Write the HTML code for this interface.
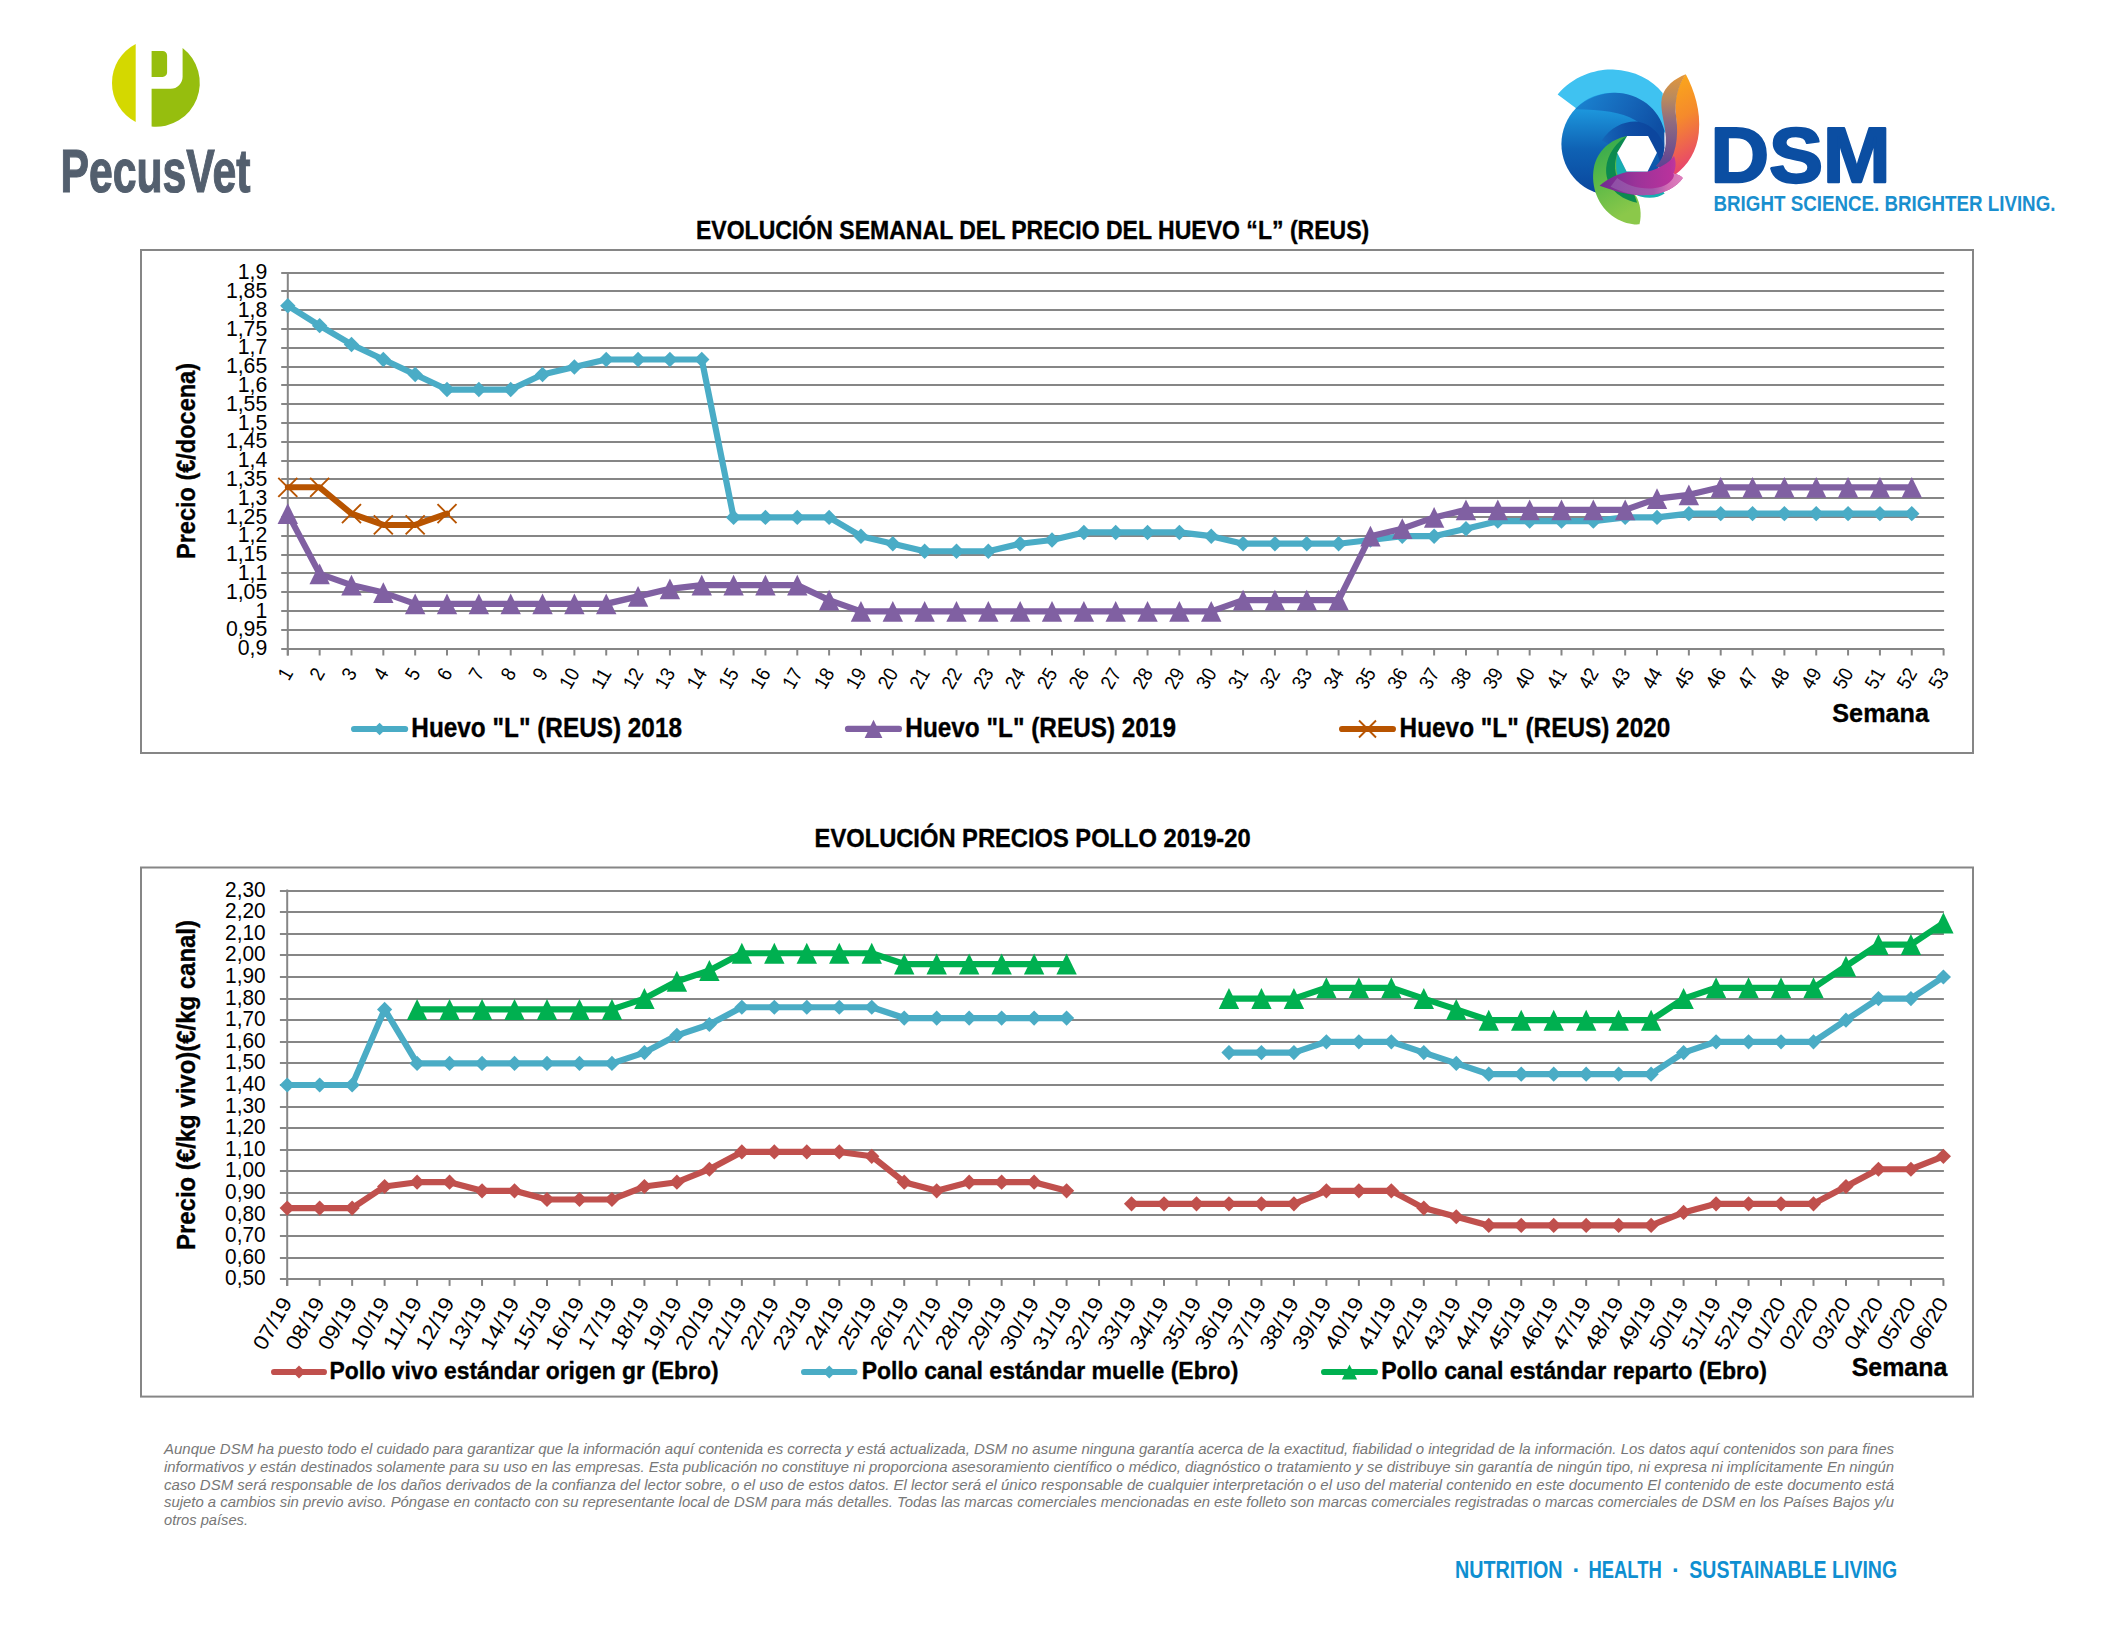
<!DOCTYPE html>
<html lang="es"><head><meta charset="utf-8"><title>Evolución semanal de precios</title>
<style>
html,body{margin:0;padding:0;background:#fff}
body{width:2112px;height:1632px;overflow:hidden;position:relative}
svg{position:absolute;left:0;top:0;display:block}
svg text{font-family:"Liberation Sans",sans-serif}
</style></head><body>
<svg width="2112" height="1632" viewBox="0 0 2112 1632">
<rect width="2112" height="1632" fill="#fff"/>
<g id="pecusvet">
<path d="M135.7 43.92A43.9 43.9 0 0 0 135.7 121.88Z" fill="#d4d800"/>
<path d="M151.6 88.7H170.6A12 12 0 0 0 182.6 76.7V48.05A43.9 43.9 0 0 1 151.6 126.59Z" fill="#96be0e"/>
<path d="M151.6 51H162.6A4.5 4.5 0 0 1 167.1 55.5V72.4A4.5 4.5 0 0 1 162.6 76.9H151.6Z" fill="#96be0e"/>
<text x="60.50" y="191.70" font-size="62" font-weight="bold" fill="#535f6e" textLength="190.00" lengthAdjust="spacingAndGlyphs" stroke="#535f6e" stroke-width="1.2">PecusVet</text>
</g>
<g id="dsm"><defs>
<linearGradient id="gB" x1="0" y1="0" x2="0" y2="1"><stop offset="0.1" stop-color="#1f9fe3"/><stop offset="0.55" stop-color="#0f62b4"/><stop offset="1" stop-color="#0a459c"/></linearGradient>
<linearGradient id="gBand" x1="0" y1="0" x2="1" y2="0.4"><stop offset="0" stop-color="#1a86d3"/><stop offset="0.6" stop-color="#1565b8"/><stop offset="1" stop-color="#0e4fa4"/></linearGradient>
<linearGradient id="gG" x1="0" y1="0" x2="0.3" y2="1"><stop offset="0" stop-color="#2aa651"/><stop offset="0.5" stop-color="#5bb947"/><stop offset="1" stop-color="#8bc84a"/></linearGradient>
<linearGradient id="gO" x1="0.3" y1="0" x2="0.5" y2="1"><stop offset="0" stop-color="#fbaa19"/><stop offset="0.45" stop-color="#f58a2c"/><stop offset="0.8" stop-color="#ec5a58"/><stop offset="1" stop-color="#e63f73"/></linearGradient>
<linearGradient id="gP" x1="0" y1="0" x2="1" y2="0"><stop offset="0" stop-color="#6f2c91"/><stop offset="0.45" stop-color="#9c3399"/><stop offset="0.85" stop-color="#b8329c"/><stop offset="1" stop-color="#c640a0"/></linearGradient>
<linearGradient id="gOd" x1="0" y1="0" x2="0" y2="1"><stop offset="0" stop-color="#e3963a"/><stop offset="0.25" stop-color="#b98a5e"/><stop offset="0.5" stop-color="#8f6b80"/><stop offset="1" stop-color="#5a3f96"/></linearGradient>
<linearGradient id="gDk" gradientUnits="userSpaceOnUse" x1="560" y1="0" x2="1000" y2="0"><stop offset="0" stop-color="#1566b8"/><stop offset="0.5" stop-color="#0f4fa6"/><stop offset="1" stop-color="#0c469e"/></linearGradient>
<linearGradient id="gPk" gradientUnits="userSpaceOnUse" x1="640" y1="0" x2="1295" y2="0"><stop offset="0" stop-color="#8d4fa6"/><stop offset="0.6" stop-color="#a557ab"/><stop offset="0.8" stop-color="#d36fb5"/><stop offset="1" stop-color="#df80be"/></linearGradient>
</defs>
<g transform="translate(1540 60) scale(0.110294)">
<!-- light blue crescent -->
<path d="M160 312C300 140 520 80 660 86C860 94 1020 180 1112 300L1140 660L330 440Z" fill="#3fc2f1"/>
<!-- big blue disc -->
<circle cx="660" cy="762" r="466" fill="url(#gB)"/>
<!-- outer band -->
<path d="M318 446C420 340 560 296 680 296C900 300 1080 440 1128 640L1128 800L1060 840C1040 700 960 600 860 545C740 470 560 450 318 446Z" fill="url(#gBand)"/>
<!-- inner dark sweep -->
<path d="M560 730C640 610 760 555 870 558C1000 570 1110 680 1128 800L1100 960L1060 840L980 690H790L700 800Z" fill="url(#gDk)"/>
<!-- teal -->
<path d="M700 840C640 960 700 1120 820 1200C940 1270 1060 1260 1130 1210L975 1010H785Z" fill="#17adb0"/>
<!-- green leaf -->
<path d="M790 690C640 720 520 820 488 980C460 1140 520 1330 680 1430C760 1480 840 1495 902 1490C925 1400 910 1300 870 1230C760 1180 690 1080 690 960C690 900 700 860 700 840Z" fill="url(#gG)"/>
<path d="M790 690C700 740 610 850 600 980C590 1120 680 1250 880 1295C870 1260 860 1230 850 1215C740 1160 670 1060 680 940C686 890 700 850 700 840Z" fill="#0c8a4f"/>
<!-- orange leaf -->
<path d="M1322 130C1400 280 1460 460 1440 660C1425 820 1340 960 1225 1040C1180 1010 1150 980 1130 950C1230 820 1250 640 1230 480C1215 360 1250 220 1322 130Z" fill="url(#gO)"/>
<path d="M1322 130C1220 170 1130 240 1105 340C1080 460 1150 600 1140 760C1130 860 1090 930 1050 960L1130 1000C1230 880 1260 700 1235 520C1215 380 1250 230 1322 130Z" fill="url(#gOd)"/>
<!-- purple -->
<path d="M540 1140C620 1070 720 1030 790 1015L975 1010C1080 990 1170 930 1215 870C1240 930 1230 990 1210 1030C1250 1040 1280 1050 1295 1070C1240 1150 1130 1215 980 1225C820 1235 680 1190 540 1140Z" fill="url(#gP)"/>
<path d="M700 1070C800 1150 960 1190 1100 1150C1180 1125 1230 1060 1210 1030C1250 1040 1280 1050 1295 1070C1240 1150 1130 1215 980 1225C860 1230 760 1210 640 1150Z" fill="url(#gPk)"/>
<!-- hexagon -->
<path d="M700 840L790 690H980L1060 840L975 1010H785Z" fill="#fff"/>
</g>
</g>
<text x="1710.50" y="182.00" font-size="78.5" font-weight="bold" fill="#0b4ea2" textLength="180.00" lengthAdjust="spacingAndGlyphs" stroke="#0b4ea2" stroke-width="2.4" stroke-linejoin="round">DSM</text>
<text x="1713.50" y="211.20" font-size="21.5" font-weight="bold" fill="#1a8fcf" textLength="342.00" lengthAdjust="spacingAndGlyphs">BRIGHT SCIENCE. BRIGHTER LIVING.</text>
<g id="chart1">
<rect x="141" y="250" width="1832" height="503" fill="#fff" stroke="#868686" stroke-width="2"/>
<text x="1032.60" y="239.00" font-size="26" font-weight="bold" stroke="#000" stroke-width="0.35" text-anchor="middle" textLength="673.30" lengthAdjust="spacingAndGlyphs">EVOLUCIÓN SEMANAL DEL PRECIO DEL HUEVO “L” (REUS)</text>
<path d="M281.20 273.00H1944.10" stroke="#868686" stroke-width="2"/>
<path d="M281.20 291.00H1944.10" stroke="#868686" stroke-width="2"/>
<path d="M281.20 310.00H1944.10" stroke="#868686" stroke-width="2"/>
<path d="M281.20 329.00H1944.10" stroke="#868686" stroke-width="2"/>
<path d="M281.20 348.00H1944.10" stroke="#868686" stroke-width="2"/>
<path d="M281.20 367.00H1944.10" stroke="#868686" stroke-width="2"/>
<path d="M281.20 385.00H1944.10" stroke="#868686" stroke-width="2"/>
<path d="M281.20 404.00H1944.10" stroke="#868686" stroke-width="2"/>
<path d="M281.20 423.00H1944.10" stroke="#868686" stroke-width="2"/>
<path d="M281.20 442.00H1944.10" stroke="#868686" stroke-width="2"/>
<path d="M281.20 461.00H1944.10" stroke="#868686" stroke-width="2"/>
<path d="M281.20 479.00H1944.10" stroke="#868686" stroke-width="2"/>
<path d="M281.20 498.00H1944.10" stroke="#868686" stroke-width="2"/>
<path d="M281.20 517.00H1944.10" stroke="#868686" stroke-width="2"/>
<path d="M281.20 536.00H1944.10" stroke="#868686" stroke-width="2"/>
<path d="M281.20 555.00H1944.10" stroke="#868686" stroke-width="2"/>
<path d="M281.20 573.00H1944.10" stroke="#868686" stroke-width="2"/>
<path d="M281.20 592.00H1944.10" stroke="#868686" stroke-width="2"/>
<path d="M281.20 611.00H1944.10" stroke="#868686" stroke-width="2"/>
<path d="M281.20 630.00H1944.10" stroke="#868686" stroke-width="2"/>
<path d="M281.20 649.00H1944.10" stroke="#868686" stroke-width="2"/>
<path d="M287.80 272.00V655.50" stroke="#868686" stroke-width="2"/>
<path d="M287.80 649.00V655.50" stroke="#868686" stroke-width="2"/>
<path d="M319.64 649.00V655.50" stroke="#868686" stroke-width="2"/>
<path d="M351.48 649.00V655.50" stroke="#868686" stroke-width="2"/>
<path d="M383.33 649.00V655.50" stroke="#868686" stroke-width="2"/>
<path d="M415.17 649.00V655.50" stroke="#868686" stroke-width="2"/>
<path d="M447.01 649.00V655.50" stroke="#868686" stroke-width="2"/>
<path d="M478.85 649.00V655.50" stroke="#868686" stroke-width="2"/>
<path d="M510.70 649.00V655.50" stroke="#868686" stroke-width="2"/>
<path d="M542.54 649.00V655.50" stroke="#868686" stroke-width="2"/>
<path d="M574.38 649.00V655.50" stroke="#868686" stroke-width="2"/>
<path d="M606.22 649.00V655.50" stroke="#868686" stroke-width="2"/>
<path d="M638.07 649.00V655.50" stroke="#868686" stroke-width="2"/>
<path d="M669.91 649.00V655.50" stroke="#868686" stroke-width="2"/>
<path d="M701.75 649.00V655.50" stroke="#868686" stroke-width="2"/>
<path d="M733.59 649.00V655.50" stroke="#868686" stroke-width="2"/>
<path d="M765.43 649.00V655.50" stroke="#868686" stroke-width="2"/>
<path d="M797.28 649.00V655.50" stroke="#868686" stroke-width="2"/>
<path d="M829.12 649.00V655.50" stroke="#868686" stroke-width="2"/>
<path d="M860.96 649.00V655.50" stroke="#868686" stroke-width="2"/>
<path d="M892.80 649.00V655.50" stroke="#868686" stroke-width="2"/>
<path d="M924.65 649.00V655.50" stroke="#868686" stroke-width="2"/>
<path d="M956.49 649.00V655.50" stroke="#868686" stroke-width="2"/>
<path d="M988.33 649.00V655.50" stroke="#868686" stroke-width="2"/>
<path d="M1020.17 649.00V655.50" stroke="#868686" stroke-width="2"/>
<path d="M1052.02 649.00V655.50" stroke="#868686" stroke-width="2"/>
<path d="M1083.86 649.00V655.50" stroke="#868686" stroke-width="2"/>
<path d="M1115.70 649.00V655.50" stroke="#868686" stroke-width="2"/>
<path d="M1147.54 649.00V655.50" stroke="#868686" stroke-width="2"/>
<path d="M1179.38 649.00V655.50" stroke="#868686" stroke-width="2"/>
<path d="M1211.23 649.00V655.50" stroke="#868686" stroke-width="2"/>
<path d="M1243.07 649.00V655.50" stroke="#868686" stroke-width="2"/>
<path d="M1274.91 649.00V655.50" stroke="#868686" stroke-width="2"/>
<path d="M1306.75 649.00V655.50" stroke="#868686" stroke-width="2"/>
<path d="M1338.60 649.00V655.50" stroke="#868686" stroke-width="2"/>
<path d="M1370.44 649.00V655.50" stroke="#868686" stroke-width="2"/>
<path d="M1402.28 649.00V655.50" stroke="#868686" stroke-width="2"/>
<path d="M1434.12 649.00V655.50" stroke="#868686" stroke-width="2"/>
<path d="M1465.97 649.00V655.50" stroke="#868686" stroke-width="2"/>
<path d="M1497.81 649.00V655.50" stroke="#868686" stroke-width="2"/>
<path d="M1529.65 649.00V655.50" stroke="#868686" stroke-width="2"/>
<path d="M1561.49 649.00V655.50" stroke="#868686" stroke-width="2"/>
<path d="M1593.33 649.00V655.50" stroke="#868686" stroke-width="2"/>
<path d="M1625.18 649.00V655.50" stroke="#868686" stroke-width="2"/>
<path d="M1657.02 649.00V655.50" stroke="#868686" stroke-width="2"/>
<path d="M1688.86 649.00V655.50" stroke="#868686" stroke-width="2"/>
<path d="M1720.70 649.00V655.50" stroke="#868686" stroke-width="2"/>
<path d="M1752.55 649.00V655.50" stroke="#868686" stroke-width="2"/>
<path d="M1784.39 649.00V655.50" stroke="#868686" stroke-width="2"/>
<path d="M1816.23 649.00V655.50" stroke="#868686" stroke-width="2"/>
<path d="M1848.07 649.00V655.50" stroke="#868686" stroke-width="2"/>
<path d="M1879.92 649.00V655.50" stroke="#868686" stroke-width="2"/>
<path d="M1911.76 649.00V655.50" stroke="#868686" stroke-width="2"/>
<path d="M1943.60 649.00V655.50" stroke="#868686" stroke-width="2"/>
<text x="267.20" y="279.10" font-size="22.5" text-anchor="end" textLength="29.50" lengthAdjust="spacingAndGlyphs">1,9</text>
<text x="267.20" y="297.90" font-size="22.5" text-anchor="end" textLength="41.30" lengthAdjust="spacingAndGlyphs">1,85</text>
<text x="267.20" y="316.70" font-size="22.5" text-anchor="end" textLength="29.50" lengthAdjust="spacingAndGlyphs">1,8</text>
<text x="267.20" y="335.50" font-size="22.5" text-anchor="end" textLength="41.30" lengthAdjust="spacingAndGlyphs">1,75</text>
<text x="267.20" y="354.30" font-size="22.5" text-anchor="end" textLength="29.50" lengthAdjust="spacingAndGlyphs">1,7</text>
<text x="267.20" y="373.10" font-size="22.5" text-anchor="end" textLength="41.30" lengthAdjust="spacingAndGlyphs">1,65</text>
<text x="267.20" y="391.90" font-size="22.5" text-anchor="end" textLength="29.50" lengthAdjust="spacingAndGlyphs">1,6</text>
<text x="267.20" y="410.70" font-size="22.5" text-anchor="end" textLength="41.30" lengthAdjust="spacingAndGlyphs">1,55</text>
<text x="267.20" y="429.50" font-size="22.5" text-anchor="end" textLength="29.50" lengthAdjust="spacingAndGlyphs">1,5</text>
<text x="267.20" y="448.30" font-size="22.5" text-anchor="end" textLength="41.30" lengthAdjust="spacingAndGlyphs">1,45</text>
<text x="267.20" y="467.10" font-size="22.5" text-anchor="end" textLength="29.50" lengthAdjust="spacingAndGlyphs">1,4</text>
<text x="267.20" y="485.90" font-size="22.5" text-anchor="end" textLength="41.30" lengthAdjust="spacingAndGlyphs">1,35</text>
<text x="267.20" y="504.70" font-size="22.5" text-anchor="end" textLength="29.50" lengthAdjust="spacingAndGlyphs">1,3</text>
<text x="267.20" y="523.50" font-size="22.5" text-anchor="end" textLength="41.30" lengthAdjust="spacingAndGlyphs">1,25</text>
<text x="267.20" y="542.30" font-size="22.5" text-anchor="end" textLength="29.50" lengthAdjust="spacingAndGlyphs">1,2</text>
<text x="267.20" y="561.10" font-size="22.5" text-anchor="end" textLength="41.30" lengthAdjust="spacingAndGlyphs">1,15</text>
<text x="267.20" y="579.90" font-size="22.5" text-anchor="end" textLength="29.50" lengthAdjust="spacingAndGlyphs">1,1</text>
<text x="267.20" y="598.70" font-size="22.5" text-anchor="end" textLength="41.30" lengthAdjust="spacingAndGlyphs">1,05</text>
<text x="267.20" y="617.50" font-size="22.5" text-anchor="end" textLength="11.80" lengthAdjust="spacingAndGlyphs">1</text>
<text x="267.20" y="636.30" font-size="22.5" text-anchor="end" textLength="41.30" lengthAdjust="spacingAndGlyphs">0,95</text>
<text x="267.20" y="655.10" font-size="22.5" text-anchor="end" textLength="29.50" lengthAdjust="spacingAndGlyphs">0,9</text>
<text x="195.00" y="461.00" font-size="26" font-weight="bold" stroke="#000" stroke-width="0.35" text-anchor="middle" textLength="196.00" lengthAdjust="spacingAndGlyphs" transform="rotate(-90 195.00 461.00)">Precio (€/docena)</text>
<text x="293.80" y="673.10" font-size="20" text-anchor="end" textLength="10.10" lengthAdjust="spacingAndGlyphs" transform="rotate(-60 293.80 673.10)">1</text>
<text x="325.64" y="673.10" font-size="20" text-anchor="end" textLength="10.10" lengthAdjust="spacingAndGlyphs" transform="rotate(-60 325.64 673.10)">2</text>
<text x="357.48" y="673.10" font-size="20" text-anchor="end" textLength="10.10" lengthAdjust="spacingAndGlyphs" transform="rotate(-60 357.48 673.10)">3</text>
<text x="389.33" y="673.10" font-size="20" text-anchor="end" textLength="10.10" lengthAdjust="spacingAndGlyphs" transform="rotate(-60 389.33 673.10)">4</text>
<text x="421.17" y="673.10" font-size="20" text-anchor="end" textLength="10.10" lengthAdjust="spacingAndGlyphs" transform="rotate(-60 421.17 673.10)">5</text>
<text x="453.01" y="673.10" font-size="20" text-anchor="end" textLength="10.10" lengthAdjust="spacingAndGlyphs" transform="rotate(-60 453.01 673.10)">6</text>
<text x="484.85" y="673.10" font-size="20" text-anchor="end" textLength="10.10" lengthAdjust="spacingAndGlyphs" transform="rotate(-60 484.85 673.10)">7</text>
<text x="516.70" y="673.10" font-size="20" text-anchor="end" textLength="10.10" lengthAdjust="spacingAndGlyphs" transform="rotate(-60 516.70 673.10)">8</text>
<text x="548.54" y="673.10" font-size="20" text-anchor="end" textLength="10.10" lengthAdjust="spacingAndGlyphs" transform="rotate(-60 548.54 673.10)">9</text>
<text x="580.38" y="673.10" font-size="20" text-anchor="end" textLength="20.20" lengthAdjust="spacingAndGlyphs" transform="rotate(-60 580.38 673.10)">10</text>
<text x="612.22" y="673.10" font-size="20" text-anchor="end" textLength="20.20" lengthAdjust="spacingAndGlyphs" transform="rotate(-60 612.22 673.10)">11</text>
<text x="644.07" y="673.10" font-size="20" text-anchor="end" textLength="20.20" lengthAdjust="spacingAndGlyphs" transform="rotate(-60 644.07 673.10)">12</text>
<text x="675.91" y="673.10" font-size="20" text-anchor="end" textLength="20.20" lengthAdjust="spacingAndGlyphs" transform="rotate(-60 675.91 673.10)">13</text>
<text x="707.75" y="673.10" font-size="20" text-anchor="end" textLength="20.20" lengthAdjust="spacingAndGlyphs" transform="rotate(-60 707.75 673.10)">14</text>
<text x="739.59" y="673.10" font-size="20" text-anchor="end" textLength="20.20" lengthAdjust="spacingAndGlyphs" transform="rotate(-60 739.59 673.10)">15</text>
<text x="771.43" y="673.10" font-size="20" text-anchor="end" textLength="20.20" lengthAdjust="spacingAndGlyphs" transform="rotate(-60 771.43 673.10)">16</text>
<text x="803.28" y="673.10" font-size="20" text-anchor="end" textLength="20.20" lengthAdjust="spacingAndGlyphs" transform="rotate(-60 803.28 673.10)">17</text>
<text x="835.12" y="673.10" font-size="20" text-anchor="end" textLength="20.20" lengthAdjust="spacingAndGlyphs" transform="rotate(-60 835.12 673.10)">18</text>
<text x="866.96" y="673.10" font-size="20" text-anchor="end" textLength="20.20" lengthAdjust="spacingAndGlyphs" transform="rotate(-60 866.96 673.10)">19</text>
<text x="898.80" y="673.10" font-size="20" text-anchor="end" textLength="20.20" lengthAdjust="spacingAndGlyphs" transform="rotate(-60 898.80 673.10)">20</text>
<text x="930.65" y="673.10" font-size="20" text-anchor="end" textLength="20.20" lengthAdjust="spacingAndGlyphs" transform="rotate(-60 930.65 673.10)">21</text>
<text x="962.49" y="673.10" font-size="20" text-anchor="end" textLength="20.20" lengthAdjust="spacingAndGlyphs" transform="rotate(-60 962.49 673.10)">22</text>
<text x="994.33" y="673.10" font-size="20" text-anchor="end" textLength="20.20" lengthAdjust="spacingAndGlyphs" transform="rotate(-60 994.33 673.10)">23</text>
<text x="1026.17" y="673.10" font-size="20" text-anchor="end" textLength="20.20" lengthAdjust="spacingAndGlyphs" transform="rotate(-60 1026.17 673.10)">24</text>
<text x="1058.02" y="673.10" font-size="20" text-anchor="end" textLength="20.20" lengthAdjust="spacingAndGlyphs" transform="rotate(-60 1058.02 673.10)">25</text>
<text x="1089.86" y="673.10" font-size="20" text-anchor="end" textLength="20.20" lengthAdjust="spacingAndGlyphs" transform="rotate(-60 1089.86 673.10)">26</text>
<text x="1121.70" y="673.10" font-size="20" text-anchor="end" textLength="20.20" lengthAdjust="spacingAndGlyphs" transform="rotate(-60 1121.70 673.10)">27</text>
<text x="1153.54" y="673.10" font-size="20" text-anchor="end" textLength="20.20" lengthAdjust="spacingAndGlyphs" transform="rotate(-60 1153.54 673.10)">28</text>
<text x="1185.38" y="673.10" font-size="20" text-anchor="end" textLength="20.20" lengthAdjust="spacingAndGlyphs" transform="rotate(-60 1185.38 673.10)">29</text>
<text x="1217.23" y="673.10" font-size="20" text-anchor="end" textLength="20.20" lengthAdjust="spacingAndGlyphs" transform="rotate(-60 1217.23 673.10)">30</text>
<text x="1249.07" y="673.10" font-size="20" text-anchor="end" textLength="20.20" lengthAdjust="spacingAndGlyphs" transform="rotate(-60 1249.07 673.10)">31</text>
<text x="1280.91" y="673.10" font-size="20" text-anchor="end" textLength="20.20" lengthAdjust="spacingAndGlyphs" transform="rotate(-60 1280.91 673.10)">32</text>
<text x="1312.75" y="673.10" font-size="20" text-anchor="end" textLength="20.20" lengthAdjust="spacingAndGlyphs" transform="rotate(-60 1312.75 673.10)">33</text>
<text x="1344.60" y="673.10" font-size="20" text-anchor="end" textLength="20.20" lengthAdjust="spacingAndGlyphs" transform="rotate(-60 1344.60 673.10)">34</text>
<text x="1376.44" y="673.10" font-size="20" text-anchor="end" textLength="20.20" lengthAdjust="spacingAndGlyphs" transform="rotate(-60 1376.44 673.10)">35</text>
<text x="1408.28" y="673.10" font-size="20" text-anchor="end" textLength="20.20" lengthAdjust="spacingAndGlyphs" transform="rotate(-60 1408.28 673.10)">36</text>
<text x="1440.12" y="673.10" font-size="20" text-anchor="end" textLength="20.20" lengthAdjust="spacingAndGlyphs" transform="rotate(-60 1440.12 673.10)">37</text>
<text x="1471.97" y="673.10" font-size="20" text-anchor="end" textLength="20.20" lengthAdjust="spacingAndGlyphs" transform="rotate(-60 1471.97 673.10)">38</text>
<text x="1503.81" y="673.10" font-size="20" text-anchor="end" textLength="20.20" lengthAdjust="spacingAndGlyphs" transform="rotate(-60 1503.81 673.10)">39</text>
<text x="1535.65" y="673.10" font-size="20" text-anchor="end" textLength="20.20" lengthAdjust="spacingAndGlyphs" transform="rotate(-60 1535.65 673.10)">40</text>
<text x="1567.49" y="673.10" font-size="20" text-anchor="end" textLength="20.20" lengthAdjust="spacingAndGlyphs" transform="rotate(-60 1567.49 673.10)">41</text>
<text x="1599.33" y="673.10" font-size="20" text-anchor="end" textLength="20.20" lengthAdjust="spacingAndGlyphs" transform="rotate(-60 1599.33 673.10)">42</text>
<text x="1631.18" y="673.10" font-size="20" text-anchor="end" textLength="20.20" lengthAdjust="spacingAndGlyphs" transform="rotate(-60 1631.18 673.10)">43</text>
<text x="1663.02" y="673.10" font-size="20" text-anchor="end" textLength="20.20" lengthAdjust="spacingAndGlyphs" transform="rotate(-60 1663.02 673.10)">44</text>
<text x="1694.86" y="673.10" font-size="20" text-anchor="end" textLength="20.20" lengthAdjust="spacingAndGlyphs" transform="rotate(-60 1694.86 673.10)">45</text>
<text x="1726.70" y="673.10" font-size="20" text-anchor="end" textLength="20.20" lengthAdjust="spacingAndGlyphs" transform="rotate(-60 1726.70 673.10)">46</text>
<text x="1758.55" y="673.10" font-size="20" text-anchor="end" textLength="20.20" lengthAdjust="spacingAndGlyphs" transform="rotate(-60 1758.55 673.10)">47</text>
<text x="1790.39" y="673.10" font-size="20" text-anchor="end" textLength="20.20" lengthAdjust="spacingAndGlyphs" transform="rotate(-60 1790.39 673.10)">48</text>
<text x="1822.23" y="673.10" font-size="20" text-anchor="end" textLength="20.20" lengthAdjust="spacingAndGlyphs" transform="rotate(-60 1822.23 673.10)">49</text>
<text x="1854.07" y="673.10" font-size="20" text-anchor="end" textLength="20.20" lengthAdjust="spacingAndGlyphs" transform="rotate(-60 1854.07 673.10)">50</text>
<text x="1885.92" y="673.10" font-size="20" text-anchor="end" textLength="20.20" lengthAdjust="spacingAndGlyphs" transform="rotate(-60 1885.92 673.10)">51</text>
<text x="1917.76" y="673.10" font-size="20" text-anchor="end" textLength="20.20" lengthAdjust="spacingAndGlyphs" transform="rotate(-60 1917.76 673.10)">52</text>
<text x="1949.60" y="673.10" font-size="20" text-anchor="end" textLength="20.20" lengthAdjust="spacingAndGlyphs" transform="rotate(-60 1949.60 673.10)">53</text>
<text x="1832.30" y="721.70" font-size="26" font-weight="bold" stroke="#000" stroke-width="0.35" textLength="96.70" lengthAdjust="spacingAndGlyphs">Semana</text>
<path d="M287.80 305.71L319.64 325.64L351.48 344.44L383.33 359.48L415.17 374.52L447.01 389.56L478.85 389.56L510.70 389.56L542.54 374.52L574.38 367.00L606.22 359.48L638.07 359.48L669.91 359.48L701.75 359.48L733.59 517.40L765.43 517.40L797.28 517.40L829.12 517.40L860.96 536.20L892.80 543.72L924.65 551.24L956.49 551.24L988.33 551.24L1020.17 543.72L1052.02 539.96L1083.86 532.44L1115.70 532.44L1147.54 532.44L1179.38 532.44L1211.23 536.20L1243.07 543.72L1274.91 543.72L1306.75 543.72L1338.60 543.72L1370.44 539.96L1402.28 536.20L1434.12 536.20L1465.97 528.68L1497.81 521.16L1529.65 521.16L1561.49 521.16L1593.33 521.16L1625.18 517.40L1657.02 517.40L1688.86 513.64L1720.70 513.64L1752.55 513.64L1784.39 513.64L1816.23 513.64L1848.07 513.64L1879.92 513.64L1911.76 513.64" fill="none" stroke="#4aacc6" stroke-width="6.2" stroke-linejoin="round" stroke-linecap="round"/>
<path d="M287.80 298.01L295.50 305.71L287.80 313.41L280.10 305.71Z" fill="#4aacc6"/>
<path d="M319.64 317.94L327.34 325.64L319.64 333.34L311.94 325.64Z" fill="#4aacc6"/>
<path d="M351.48 336.74L359.18 344.44L351.48 352.14L343.78 344.44Z" fill="#4aacc6"/>
<path d="M383.33 351.78L391.03 359.48L383.33 367.18L375.63 359.48Z" fill="#4aacc6"/>
<path d="M415.17 366.82L422.87 374.52L415.17 382.22L407.47 374.52Z" fill="#4aacc6"/>
<path d="M447.01 381.86L454.71 389.56L447.01 397.26L439.31 389.56Z" fill="#4aacc6"/>
<path d="M478.85 381.86L486.55 389.56L478.85 397.26L471.15 389.56Z" fill="#4aacc6"/>
<path d="M510.70 381.86L518.40 389.56L510.70 397.26L503.00 389.56Z" fill="#4aacc6"/>
<path d="M542.54 366.82L550.24 374.52L542.54 382.22L534.84 374.52Z" fill="#4aacc6"/>
<path d="M574.38 359.30L582.08 367.00L574.38 374.70L566.68 367.00Z" fill="#4aacc6"/>
<path d="M606.22 351.78L613.92 359.48L606.22 367.18L598.52 359.48Z" fill="#4aacc6"/>
<path d="M638.07 351.78L645.77 359.48L638.07 367.18L630.37 359.48Z" fill="#4aacc6"/>
<path d="M669.91 351.78L677.61 359.48L669.91 367.18L662.21 359.48Z" fill="#4aacc6"/>
<path d="M701.75 351.78L709.45 359.48L701.75 367.18L694.05 359.48Z" fill="#4aacc6"/>
<path d="M733.59 509.70L741.29 517.40L733.59 525.10L725.89 517.40Z" fill="#4aacc6"/>
<path d="M765.43 509.70L773.13 517.40L765.43 525.10L757.73 517.40Z" fill="#4aacc6"/>
<path d="M797.28 509.70L804.98 517.40L797.28 525.10L789.58 517.40Z" fill="#4aacc6"/>
<path d="M829.12 509.70L836.82 517.40L829.12 525.10L821.42 517.40Z" fill="#4aacc6"/>
<path d="M860.96 528.50L868.66 536.20L860.96 543.90L853.26 536.20Z" fill="#4aacc6"/>
<path d="M892.80 536.02L900.50 543.72L892.80 551.42L885.10 543.72Z" fill="#4aacc6"/>
<path d="M924.65 543.54L932.35 551.24L924.65 558.94L916.95 551.24Z" fill="#4aacc6"/>
<path d="M956.49 543.54L964.19 551.24L956.49 558.94L948.79 551.24Z" fill="#4aacc6"/>
<path d="M988.33 543.54L996.03 551.24L988.33 558.94L980.63 551.24Z" fill="#4aacc6"/>
<path d="M1020.17 536.02L1027.87 543.72L1020.17 551.42L1012.47 543.72Z" fill="#4aacc6"/>
<path d="M1052.02 532.26L1059.72 539.96L1052.02 547.66L1044.32 539.96Z" fill="#4aacc6"/>
<path d="M1083.86 524.74L1091.56 532.44L1083.86 540.14L1076.16 532.44Z" fill="#4aacc6"/>
<path d="M1115.70 524.74L1123.40 532.44L1115.70 540.14L1108.00 532.44Z" fill="#4aacc6"/>
<path d="M1147.54 524.74L1155.24 532.44L1147.54 540.14L1139.84 532.44Z" fill="#4aacc6"/>
<path d="M1179.38 524.74L1187.08 532.44L1179.38 540.14L1171.68 532.44Z" fill="#4aacc6"/>
<path d="M1211.23 528.50L1218.93 536.20L1211.23 543.90L1203.53 536.20Z" fill="#4aacc6"/>
<path d="M1243.07 536.02L1250.77 543.72L1243.07 551.42L1235.37 543.72Z" fill="#4aacc6"/>
<path d="M1274.91 536.02L1282.61 543.72L1274.91 551.42L1267.21 543.72Z" fill="#4aacc6"/>
<path d="M1306.75 536.02L1314.45 543.72L1306.75 551.42L1299.05 543.72Z" fill="#4aacc6"/>
<path d="M1338.60 536.02L1346.30 543.72L1338.60 551.42L1330.90 543.72Z" fill="#4aacc6"/>
<path d="M1370.44 532.26L1378.14 539.96L1370.44 547.66L1362.74 539.96Z" fill="#4aacc6"/>
<path d="M1402.28 528.50L1409.98 536.20L1402.28 543.90L1394.58 536.20Z" fill="#4aacc6"/>
<path d="M1434.12 528.50L1441.82 536.20L1434.12 543.90L1426.42 536.20Z" fill="#4aacc6"/>
<path d="M1465.97 520.98L1473.67 528.68L1465.97 536.38L1458.27 528.68Z" fill="#4aacc6"/>
<path d="M1497.81 513.46L1505.51 521.16L1497.81 528.86L1490.11 521.16Z" fill="#4aacc6"/>
<path d="M1529.65 513.46L1537.35 521.16L1529.65 528.86L1521.95 521.16Z" fill="#4aacc6"/>
<path d="M1561.49 513.46L1569.19 521.16L1561.49 528.86L1553.79 521.16Z" fill="#4aacc6"/>
<path d="M1593.33 513.46L1601.03 521.16L1593.33 528.86L1585.63 521.16Z" fill="#4aacc6"/>
<path d="M1625.18 509.70L1632.88 517.40L1625.18 525.10L1617.48 517.40Z" fill="#4aacc6"/>
<path d="M1657.02 509.70L1664.72 517.40L1657.02 525.10L1649.32 517.40Z" fill="#4aacc6"/>
<path d="M1688.86 505.94L1696.56 513.64L1688.86 521.34L1681.16 513.64Z" fill="#4aacc6"/>
<path d="M1720.70 505.94L1728.40 513.64L1720.70 521.34L1713.00 513.64Z" fill="#4aacc6"/>
<path d="M1752.55 505.94L1760.25 513.64L1752.55 521.34L1744.85 513.64Z" fill="#4aacc6"/>
<path d="M1784.39 505.94L1792.09 513.64L1784.39 521.34L1776.69 513.64Z" fill="#4aacc6"/>
<path d="M1816.23 505.94L1823.93 513.64L1816.23 521.34L1808.53 513.64Z" fill="#4aacc6"/>
<path d="M1848.07 505.94L1855.77 513.64L1848.07 521.34L1840.37 513.64Z" fill="#4aacc6"/>
<path d="M1879.92 505.94L1887.62 513.64L1879.92 521.34L1872.22 513.64Z" fill="#4aacc6"/>
<path d="M1911.76 505.94L1919.46 513.64L1911.76 521.34L1904.06 513.64Z" fill="#4aacc6"/>
<path d="M287.80 513.64L319.64 573.80L351.48 585.08L383.33 592.60L415.17 603.88L447.01 603.88L478.85 603.88L510.70 603.88L542.54 603.88L574.38 603.88L606.22 603.88L638.07 596.36L669.91 588.84L701.75 585.08L733.59 585.08L765.43 585.08L797.28 585.08L829.12 600.12L860.96 611.40L892.80 611.40L924.65 611.40L956.49 611.40L988.33 611.40L1020.17 611.40L1052.02 611.40L1083.86 611.40L1115.70 611.40L1147.54 611.40L1179.38 611.40L1211.23 611.40L1243.07 600.12L1274.91 600.12L1306.75 600.12L1338.60 600.12L1370.44 536.20L1402.28 528.68L1434.12 517.40L1465.97 509.88L1497.81 509.88L1529.65 509.88L1561.49 509.88L1593.33 509.88L1625.18 509.88L1657.02 498.60L1688.86 494.84L1720.70 487.32L1752.55 487.32L1784.39 487.32L1816.23 487.32L1848.07 487.32L1879.92 487.32L1911.76 487.32" fill="none" stroke="#8060a2" stroke-width="6.2" stroke-linejoin="round" stroke-linecap="round"/>
<path d="M287.80 503.29L298.00 523.99L277.60 523.99Z" fill="#8060a2"/>
<path d="M319.64 563.45L329.84 584.15L309.44 584.15Z" fill="#8060a2"/>
<path d="M351.48 574.73L361.68 595.43L341.28 595.43Z" fill="#8060a2"/>
<path d="M383.33 582.25L393.53 602.95L373.13 602.95Z" fill="#8060a2"/>
<path d="M415.17 593.53L425.37 614.23L404.97 614.23Z" fill="#8060a2"/>
<path d="M447.01 593.53L457.21 614.23L436.81 614.23Z" fill="#8060a2"/>
<path d="M478.85 593.53L489.05 614.23L468.65 614.23Z" fill="#8060a2"/>
<path d="M510.70 593.53L520.90 614.23L500.50 614.23Z" fill="#8060a2"/>
<path d="M542.54 593.53L552.74 614.23L532.34 614.23Z" fill="#8060a2"/>
<path d="M574.38 593.53L584.58 614.23L564.18 614.23Z" fill="#8060a2"/>
<path d="M606.22 593.53L616.42 614.23L596.02 614.23Z" fill="#8060a2"/>
<path d="M638.07 586.01L648.27 606.71L627.87 606.71Z" fill="#8060a2"/>
<path d="M669.91 578.49L680.11 599.19L659.71 599.19Z" fill="#8060a2"/>
<path d="M701.75 574.73L711.95 595.43L691.55 595.43Z" fill="#8060a2"/>
<path d="M733.59 574.73L743.79 595.43L723.39 595.43Z" fill="#8060a2"/>
<path d="M765.43 574.73L775.63 595.43L755.23 595.43Z" fill="#8060a2"/>
<path d="M797.28 574.73L807.48 595.43L787.08 595.43Z" fill="#8060a2"/>
<path d="M829.12 589.77L839.32 610.47L818.92 610.47Z" fill="#8060a2"/>
<path d="M860.96 601.05L871.16 621.75L850.76 621.75Z" fill="#8060a2"/>
<path d="M892.80 601.05L903.00 621.75L882.60 621.75Z" fill="#8060a2"/>
<path d="M924.65 601.05L934.85 621.75L914.45 621.75Z" fill="#8060a2"/>
<path d="M956.49 601.05L966.69 621.75L946.29 621.75Z" fill="#8060a2"/>
<path d="M988.33 601.05L998.53 621.75L978.13 621.75Z" fill="#8060a2"/>
<path d="M1020.17 601.05L1030.37 621.75L1009.97 621.75Z" fill="#8060a2"/>
<path d="M1052.02 601.05L1062.22 621.75L1041.82 621.75Z" fill="#8060a2"/>
<path d="M1083.86 601.05L1094.06 621.75L1073.66 621.75Z" fill="#8060a2"/>
<path d="M1115.70 601.05L1125.90 621.75L1105.50 621.75Z" fill="#8060a2"/>
<path d="M1147.54 601.05L1157.74 621.75L1137.34 621.75Z" fill="#8060a2"/>
<path d="M1179.38 601.05L1189.58 621.75L1169.18 621.75Z" fill="#8060a2"/>
<path d="M1211.23 601.05L1221.43 621.75L1201.03 621.75Z" fill="#8060a2"/>
<path d="M1243.07 589.77L1253.27 610.47L1232.87 610.47Z" fill="#8060a2"/>
<path d="M1274.91 589.77L1285.11 610.47L1264.71 610.47Z" fill="#8060a2"/>
<path d="M1306.75 589.77L1316.95 610.47L1296.55 610.47Z" fill="#8060a2"/>
<path d="M1338.60 589.77L1348.80 610.47L1328.40 610.47Z" fill="#8060a2"/>
<path d="M1370.44 525.85L1380.64 546.55L1360.24 546.55Z" fill="#8060a2"/>
<path d="M1402.28 518.33L1412.48 539.03L1392.08 539.03Z" fill="#8060a2"/>
<path d="M1434.12 507.05L1444.32 527.75L1423.92 527.75Z" fill="#8060a2"/>
<path d="M1465.97 499.53L1476.17 520.23L1455.77 520.23Z" fill="#8060a2"/>
<path d="M1497.81 499.53L1508.01 520.23L1487.61 520.23Z" fill="#8060a2"/>
<path d="M1529.65 499.53L1539.85 520.23L1519.45 520.23Z" fill="#8060a2"/>
<path d="M1561.49 499.53L1571.69 520.23L1551.29 520.23Z" fill="#8060a2"/>
<path d="M1593.33 499.53L1603.53 520.23L1583.13 520.23Z" fill="#8060a2"/>
<path d="M1625.18 499.53L1635.38 520.23L1614.98 520.23Z" fill="#8060a2"/>
<path d="M1657.02 488.25L1667.22 508.95L1646.82 508.95Z" fill="#8060a2"/>
<path d="M1688.86 484.49L1699.06 505.19L1678.66 505.19Z" fill="#8060a2"/>
<path d="M1720.70 476.97L1730.90 497.67L1710.50 497.67Z" fill="#8060a2"/>
<path d="M1752.55 476.97L1762.75 497.67L1742.35 497.67Z" fill="#8060a2"/>
<path d="M1784.39 476.97L1794.59 497.67L1774.19 497.67Z" fill="#8060a2"/>
<path d="M1816.23 476.97L1826.43 497.67L1806.03 497.67Z" fill="#8060a2"/>
<path d="M1848.07 476.97L1858.27 497.67L1837.87 497.67Z" fill="#8060a2"/>
<path d="M1879.92 476.97L1890.12 497.67L1869.72 497.67Z" fill="#8060a2"/>
<path d="M1911.76 476.97L1921.96 497.67L1901.56 497.67Z" fill="#8060a2"/>
<path d="M287.80 487.32L319.64 487.32L351.48 513.64L383.33 524.92L415.17 524.92L447.01 513.64" fill="none" stroke="#b85400" stroke-width="6" stroke-linejoin="round" stroke-linecap="round"/>
<path d="M278.30 477.82L297.30 496.82M278.30 496.82L297.30 477.82" stroke="#b85400" stroke-width="1.9" fill="none"/>
<path d="M310.14 477.82L329.14 496.82M310.14 496.82L329.14 477.82" stroke="#b85400" stroke-width="1.9" fill="none"/>
<path d="M341.98 504.14L360.98 523.14M341.98 523.14L360.98 504.14" stroke="#b85400" stroke-width="1.9" fill="none"/>
<path d="M373.83 515.42L392.83 534.42M373.83 534.42L392.83 515.42" stroke="#b85400" stroke-width="1.9" fill="none"/>
<path d="M405.67 515.42L424.67 534.42M405.67 534.42L424.67 515.42" stroke="#b85400" stroke-width="1.9" fill="none"/>
<path d="M437.51 504.14L456.51 523.14M437.51 523.14L456.51 504.14" stroke="#b85400" stroke-width="1.9" fill="none"/>
<path d="M354.10 729.00H405.10" stroke="#4aacc6" stroke-width="6.2" stroke-linecap="round"/>
<path d="M379.60 722.70L385.90 729.00L379.60 735.30L373.30 729.00Z" fill="#4aacc6"/>
<text x="411.30" y="736.90" font-size="27" font-weight="bold" stroke="#000" stroke-width="0.35" textLength="270.70" lengthAdjust="spacingAndGlyphs">Huevo "L" (REUS) 2018</text>
<path d="M848.00 728.90H899.00" stroke="#8060a2" stroke-width="6.2" stroke-linecap="round"/>
<path d="M873.50 719.70L882.40 738.10L864.60 738.10Z" fill="#8060a2"/>
<text x="905.30" y="736.90" font-size="27" font-weight="bold" stroke="#000" stroke-width="0.35" textLength="270.70" lengthAdjust="spacingAndGlyphs">Huevo "L" (REUS) 2019</text>
<path d="M1342.10 729.00H1392.90" stroke="#b85400" stroke-width="6.2" stroke-linecap="round"/>
<path d="M1359.00 720.50L1376.00 737.50M1359.00 737.50L1376.00 720.50" stroke="#b85400" stroke-width="1.9" fill="none"/>
<text x="1399.60" y="736.90" font-size="27" font-weight="bold" stroke="#000" stroke-width="0.35" textLength="270.70" lengthAdjust="spacingAndGlyphs">Huevo "L" (REUS) 2020</text>
</g>
<g id="chart2">
<rect x="141" y="867.5" width="1832" height="529.1" fill="#fff" stroke="#868686" stroke-width="2"/>
<text x="1032.60" y="847.00" font-size="26" font-weight="bold" stroke="#000" stroke-width="0.35" text-anchor="middle" textLength="436.00" lengthAdjust="spacingAndGlyphs">EVOLUCIÓN PRECIOS POLLO 2019-20</text>
<path d="M279.90 891.00H1943.90" stroke="#868686" stroke-width="2"/>
<text x="265.70" y="897.20" font-size="22.5" text-anchor="end" textLength="40.60" lengthAdjust="spacingAndGlyphs">2,30</text>
<path d="M279.90 912.00H1943.90" stroke="#868686" stroke-width="2"/>
<text x="265.70" y="918.20" font-size="22.5" text-anchor="end" textLength="40.60" lengthAdjust="spacingAndGlyphs">2,20</text>
<path d="M279.90 934.00H1943.90" stroke="#868686" stroke-width="2"/>
<text x="265.70" y="940.20" font-size="22.5" text-anchor="end" textLength="40.60" lengthAdjust="spacingAndGlyphs">2,10</text>
<path d="M279.90 955.00H1943.90" stroke="#868686" stroke-width="2"/>
<text x="265.70" y="961.20" font-size="22.5" text-anchor="end" textLength="40.60" lengthAdjust="spacingAndGlyphs">2,00</text>
<path d="M279.90 977.00H1943.90" stroke="#868686" stroke-width="2"/>
<text x="265.70" y="983.20" font-size="22.5" text-anchor="end" textLength="40.60" lengthAdjust="spacingAndGlyphs">1,90</text>
<path d="M279.90 999.00H1943.90" stroke="#868686" stroke-width="2"/>
<text x="265.70" y="1005.20" font-size="22.5" text-anchor="end" textLength="40.60" lengthAdjust="spacingAndGlyphs">1,80</text>
<path d="M279.90 1020.00H1943.90" stroke="#868686" stroke-width="2"/>
<text x="265.70" y="1026.20" font-size="22.5" text-anchor="end" textLength="40.60" lengthAdjust="spacingAndGlyphs">1,70</text>
<path d="M279.90 1042.00H1943.90" stroke="#868686" stroke-width="2"/>
<text x="265.70" y="1048.20" font-size="22.5" text-anchor="end" textLength="40.60" lengthAdjust="spacingAndGlyphs">1,60</text>
<path d="M279.90 1063.00H1943.90" stroke="#868686" stroke-width="2"/>
<text x="265.70" y="1069.20" font-size="22.5" text-anchor="end" textLength="40.60" lengthAdjust="spacingAndGlyphs">1,50</text>
<path d="M279.90 1085.00H1943.90" stroke="#868686" stroke-width="2"/>
<text x="265.70" y="1091.20" font-size="22.5" text-anchor="end" textLength="40.60" lengthAdjust="spacingAndGlyphs">1,40</text>
<path d="M279.90 1107.00H1943.90" stroke="#868686" stroke-width="2"/>
<text x="265.70" y="1113.20" font-size="22.5" text-anchor="end" textLength="40.60" lengthAdjust="spacingAndGlyphs">1,30</text>
<path d="M279.90 1128.00H1943.90" stroke="#868686" stroke-width="2"/>
<text x="265.70" y="1134.20" font-size="22.5" text-anchor="end" textLength="40.60" lengthAdjust="spacingAndGlyphs">1,20</text>
<path d="M279.90 1150.00H1943.90" stroke="#868686" stroke-width="2"/>
<text x="265.70" y="1156.20" font-size="22.5" text-anchor="end" textLength="40.60" lengthAdjust="spacingAndGlyphs">1,10</text>
<path d="M279.90 1171.00H1943.90" stroke="#868686" stroke-width="2"/>
<text x="265.70" y="1177.20" font-size="22.5" text-anchor="end" textLength="40.60" lengthAdjust="spacingAndGlyphs">1,00</text>
<path d="M279.90 1193.00H1943.90" stroke="#868686" stroke-width="2"/>
<text x="265.70" y="1199.20" font-size="22.5" text-anchor="end" textLength="40.60" lengthAdjust="spacingAndGlyphs">0,90</text>
<path d="M279.90 1215.00H1943.90" stroke="#868686" stroke-width="2"/>
<text x="265.70" y="1221.20" font-size="22.5" text-anchor="end" textLength="40.60" lengthAdjust="spacingAndGlyphs">0,80</text>
<path d="M279.90 1236.00H1943.90" stroke="#868686" stroke-width="2"/>
<text x="265.70" y="1242.20" font-size="22.5" text-anchor="end" textLength="40.60" lengthAdjust="spacingAndGlyphs">0,70</text>
<path d="M279.90 1258.00H1943.90" stroke="#868686" stroke-width="2"/>
<text x="265.70" y="1264.20" font-size="22.5" text-anchor="end" textLength="40.60" lengthAdjust="spacingAndGlyphs">0,60</text>
<path d="M279.90 1279.00H1943.90" stroke="#868686" stroke-width="2"/>
<text x="265.70" y="1285.20" font-size="22.5" text-anchor="end" textLength="40.60" lengthAdjust="spacingAndGlyphs">0,50</text>
<path d="M287.20 889.60V1285.90" stroke="#868686" stroke-width="2"/>
<path d="M287.20 1279.40V1285.90" stroke="#868686" stroke-width="2"/>
<text x="292.80" y="1302.60" font-size="21" text-anchor="end" textLength="56.50" lengthAdjust="spacingAndGlyphs" transform="rotate(-60 292.80 1302.60)">07/19</text>
<path d="M319.67 1279.40V1285.90" stroke="#868686" stroke-width="2"/>
<text x="325.27" y="1302.60" font-size="21" text-anchor="end" textLength="56.50" lengthAdjust="spacingAndGlyphs" transform="rotate(-60 325.27 1302.60)">08/19</text>
<path d="M352.15 1279.40V1285.90" stroke="#868686" stroke-width="2"/>
<text x="357.75" y="1302.60" font-size="21" text-anchor="end" textLength="56.50" lengthAdjust="spacingAndGlyphs" transform="rotate(-60 357.75 1302.60)">09/19</text>
<path d="M384.62 1279.40V1285.90" stroke="#868686" stroke-width="2"/>
<text x="390.22" y="1302.60" font-size="21" text-anchor="end" textLength="56.50" lengthAdjust="spacingAndGlyphs" transform="rotate(-60 390.22 1302.60)">10/19</text>
<path d="M417.10 1279.40V1285.90" stroke="#868686" stroke-width="2"/>
<text x="422.70" y="1302.60" font-size="21" text-anchor="end" textLength="56.50" lengthAdjust="spacingAndGlyphs" transform="rotate(-60 422.70 1302.60)">11/19</text>
<path d="M449.57 1279.40V1285.90" stroke="#868686" stroke-width="2"/>
<text x="455.17" y="1302.60" font-size="21" text-anchor="end" textLength="56.50" lengthAdjust="spacingAndGlyphs" transform="rotate(-60 455.17 1302.60)">12/19</text>
<path d="M482.05 1279.40V1285.90" stroke="#868686" stroke-width="2"/>
<text x="487.65" y="1302.60" font-size="21" text-anchor="end" textLength="56.50" lengthAdjust="spacingAndGlyphs" transform="rotate(-60 487.65 1302.60)">13/19</text>
<path d="M514.52 1279.40V1285.90" stroke="#868686" stroke-width="2"/>
<text x="520.12" y="1302.60" font-size="21" text-anchor="end" textLength="56.50" lengthAdjust="spacingAndGlyphs" transform="rotate(-60 520.12 1302.60)">14/19</text>
<path d="M547.00 1279.40V1285.90" stroke="#868686" stroke-width="2"/>
<text x="552.60" y="1302.60" font-size="21" text-anchor="end" textLength="56.50" lengthAdjust="spacingAndGlyphs" transform="rotate(-60 552.60 1302.60)">15/19</text>
<path d="M579.47 1279.40V1285.90" stroke="#868686" stroke-width="2"/>
<text x="585.07" y="1302.60" font-size="21" text-anchor="end" textLength="56.50" lengthAdjust="spacingAndGlyphs" transform="rotate(-60 585.07 1302.60)">16/19</text>
<path d="M611.95 1279.40V1285.90" stroke="#868686" stroke-width="2"/>
<text x="617.55" y="1302.60" font-size="21" text-anchor="end" textLength="56.50" lengthAdjust="spacingAndGlyphs" transform="rotate(-60 617.55 1302.60)">17/19</text>
<path d="M644.42 1279.40V1285.90" stroke="#868686" stroke-width="2"/>
<text x="650.02" y="1302.60" font-size="21" text-anchor="end" textLength="56.50" lengthAdjust="spacingAndGlyphs" transform="rotate(-60 650.02 1302.60)">18/19</text>
<path d="M676.89 1279.40V1285.90" stroke="#868686" stroke-width="2"/>
<text x="682.49" y="1302.60" font-size="21" text-anchor="end" textLength="56.50" lengthAdjust="spacingAndGlyphs" transform="rotate(-60 682.49 1302.60)">19/19</text>
<path d="M709.37 1279.40V1285.90" stroke="#868686" stroke-width="2"/>
<text x="714.97" y="1302.60" font-size="21" text-anchor="end" textLength="56.50" lengthAdjust="spacingAndGlyphs" transform="rotate(-60 714.97 1302.60)">20/19</text>
<path d="M741.84 1279.40V1285.90" stroke="#868686" stroke-width="2"/>
<text x="747.44" y="1302.60" font-size="21" text-anchor="end" textLength="56.50" lengthAdjust="spacingAndGlyphs" transform="rotate(-60 747.44 1302.60)">21/19</text>
<path d="M774.32 1279.40V1285.90" stroke="#868686" stroke-width="2"/>
<text x="779.92" y="1302.60" font-size="21" text-anchor="end" textLength="56.50" lengthAdjust="spacingAndGlyphs" transform="rotate(-60 779.92 1302.60)">22/19</text>
<path d="M806.79 1279.40V1285.90" stroke="#868686" stroke-width="2"/>
<text x="812.39" y="1302.60" font-size="21" text-anchor="end" textLength="56.50" lengthAdjust="spacingAndGlyphs" transform="rotate(-60 812.39 1302.60)">23/19</text>
<path d="M839.27 1279.40V1285.90" stroke="#868686" stroke-width="2"/>
<text x="844.87" y="1302.60" font-size="21" text-anchor="end" textLength="56.50" lengthAdjust="spacingAndGlyphs" transform="rotate(-60 844.87 1302.60)">24/19</text>
<path d="M871.74 1279.40V1285.90" stroke="#868686" stroke-width="2"/>
<text x="877.34" y="1302.60" font-size="21" text-anchor="end" textLength="56.50" lengthAdjust="spacingAndGlyphs" transform="rotate(-60 877.34 1302.60)">25/19</text>
<path d="M904.22 1279.40V1285.90" stroke="#868686" stroke-width="2"/>
<text x="909.82" y="1302.60" font-size="21" text-anchor="end" textLength="56.50" lengthAdjust="spacingAndGlyphs" transform="rotate(-60 909.82 1302.60)">26/19</text>
<path d="M936.69 1279.40V1285.90" stroke="#868686" stroke-width="2"/>
<text x="942.29" y="1302.60" font-size="21" text-anchor="end" textLength="56.50" lengthAdjust="spacingAndGlyphs" transform="rotate(-60 942.29 1302.60)">27/19</text>
<path d="M969.16 1279.40V1285.90" stroke="#868686" stroke-width="2"/>
<text x="974.76" y="1302.60" font-size="21" text-anchor="end" textLength="56.50" lengthAdjust="spacingAndGlyphs" transform="rotate(-60 974.76 1302.60)">28/19</text>
<path d="M1001.64 1279.40V1285.90" stroke="#868686" stroke-width="2"/>
<text x="1007.24" y="1302.60" font-size="21" text-anchor="end" textLength="56.50" lengthAdjust="spacingAndGlyphs" transform="rotate(-60 1007.24 1302.60)">29/19</text>
<path d="M1034.11 1279.40V1285.90" stroke="#868686" stroke-width="2"/>
<text x="1039.71" y="1302.60" font-size="21" text-anchor="end" textLength="56.50" lengthAdjust="spacingAndGlyphs" transform="rotate(-60 1039.71 1302.60)">30/19</text>
<path d="M1066.59 1279.40V1285.90" stroke="#868686" stroke-width="2"/>
<text x="1072.19" y="1302.60" font-size="21" text-anchor="end" textLength="56.50" lengthAdjust="spacingAndGlyphs" transform="rotate(-60 1072.19 1302.60)">31/19</text>
<path d="M1099.06 1279.40V1285.90" stroke="#868686" stroke-width="2"/>
<text x="1104.66" y="1302.60" font-size="21" text-anchor="end" textLength="56.50" lengthAdjust="spacingAndGlyphs" transform="rotate(-60 1104.66 1302.60)">32/19</text>
<path d="M1131.54 1279.40V1285.90" stroke="#868686" stroke-width="2"/>
<text x="1137.14" y="1302.60" font-size="21" text-anchor="end" textLength="56.50" lengthAdjust="spacingAndGlyphs" transform="rotate(-60 1137.14 1302.60)">33/19</text>
<path d="M1164.01 1279.40V1285.90" stroke="#868686" stroke-width="2"/>
<text x="1169.61" y="1302.60" font-size="21" text-anchor="end" textLength="56.50" lengthAdjust="spacingAndGlyphs" transform="rotate(-60 1169.61 1302.60)">34/19</text>
<path d="M1196.49 1279.40V1285.90" stroke="#868686" stroke-width="2"/>
<text x="1202.09" y="1302.60" font-size="21" text-anchor="end" textLength="56.50" lengthAdjust="spacingAndGlyphs" transform="rotate(-60 1202.09 1302.60)">35/19</text>
<path d="M1228.96 1279.40V1285.90" stroke="#868686" stroke-width="2"/>
<text x="1234.56" y="1302.60" font-size="21" text-anchor="end" textLength="56.50" lengthAdjust="spacingAndGlyphs" transform="rotate(-60 1234.56 1302.60)">36/19</text>
<path d="M1261.44 1279.40V1285.90" stroke="#868686" stroke-width="2"/>
<text x="1267.04" y="1302.60" font-size="21" text-anchor="end" textLength="56.50" lengthAdjust="spacingAndGlyphs" transform="rotate(-60 1267.04 1302.60)">37/19</text>
<path d="M1293.91 1279.40V1285.90" stroke="#868686" stroke-width="2"/>
<text x="1299.51" y="1302.60" font-size="21" text-anchor="end" textLength="56.50" lengthAdjust="spacingAndGlyphs" transform="rotate(-60 1299.51 1302.60)">38/19</text>
<path d="M1326.38 1279.40V1285.90" stroke="#868686" stroke-width="2"/>
<text x="1331.98" y="1302.60" font-size="21" text-anchor="end" textLength="56.50" lengthAdjust="spacingAndGlyphs" transform="rotate(-60 1331.98 1302.60)">39/19</text>
<path d="M1358.86 1279.40V1285.90" stroke="#868686" stroke-width="2"/>
<text x="1364.46" y="1302.60" font-size="21" text-anchor="end" textLength="56.50" lengthAdjust="spacingAndGlyphs" transform="rotate(-60 1364.46 1302.60)">40/19</text>
<path d="M1391.33 1279.40V1285.90" stroke="#868686" stroke-width="2"/>
<text x="1396.93" y="1302.60" font-size="21" text-anchor="end" textLength="56.50" lengthAdjust="spacingAndGlyphs" transform="rotate(-60 1396.93 1302.60)">41/19</text>
<path d="M1423.81 1279.40V1285.90" stroke="#868686" stroke-width="2"/>
<text x="1429.41" y="1302.60" font-size="21" text-anchor="end" textLength="56.50" lengthAdjust="spacingAndGlyphs" transform="rotate(-60 1429.41 1302.60)">42/19</text>
<path d="M1456.28 1279.40V1285.90" stroke="#868686" stroke-width="2"/>
<text x="1461.88" y="1302.60" font-size="21" text-anchor="end" textLength="56.50" lengthAdjust="spacingAndGlyphs" transform="rotate(-60 1461.88 1302.60)">43/19</text>
<path d="M1488.76 1279.40V1285.90" stroke="#868686" stroke-width="2"/>
<text x="1494.36" y="1302.60" font-size="21" text-anchor="end" textLength="56.50" lengthAdjust="spacingAndGlyphs" transform="rotate(-60 1494.36 1302.60)">44/19</text>
<path d="M1521.23 1279.40V1285.90" stroke="#868686" stroke-width="2"/>
<text x="1526.83" y="1302.60" font-size="21" text-anchor="end" textLength="56.50" lengthAdjust="spacingAndGlyphs" transform="rotate(-60 1526.83 1302.60)">45/19</text>
<path d="M1553.71 1279.40V1285.90" stroke="#868686" stroke-width="2"/>
<text x="1559.31" y="1302.60" font-size="21" text-anchor="end" textLength="56.50" lengthAdjust="spacingAndGlyphs" transform="rotate(-60 1559.31 1302.60)">46/19</text>
<path d="M1586.18 1279.40V1285.90" stroke="#868686" stroke-width="2"/>
<text x="1591.78" y="1302.60" font-size="21" text-anchor="end" textLength="56.50" lengthAdjust="spacingAndGlyphs" transform="rotate(-60 1591.78 1302.60)">47/19</text>
<path d="M1618.65 1279.40V1285.90" stroke="#868686" stroke-width="2"/>
<text x="1624.25" y="1302.60" font-size="21" text-anchor="end" textLength="56.50" lengthAdjust="spacingAndGlyphs" transform="rotate(-60 1624.25 1302.60)">48/19</text>
<path d="M1651.13 1279.40V1285.90" stroke="#868686" stroke-width="2"/>
<text x="1656.73" y="1302.60" font-size="21" text-anchor="end" textLength="56.50" lengthAdjust="spacingAndGlyphs" transform="rotate(-60 1656.73 1302.60)">49/19</text>
<path d="M1683.60 1279.40V1285.90" stroke="#868686" stroke-width="2"/>
<text x="1689.20" y="1302.60" font-size="21" text-anchor="end" textLength="56.50" lengthAdjust="spacingAndGlyphs" transform="rotate(-60 1689.20 1302.60)">50/19</text>
<path d="M1716.08 1279.40V1285.90" stroke="#868686" stroke-width="2"/>
<text x="1721.68" y="1302.60" font-size="21" text-anchor="end" textLength="56.50" lengthAdjust="spacingAndGlyphs" transform="rotate(-60 1721.68 1302.60)">51/19</text>
<path d="M1748.55 1279.40V1285.90" stroke="#868686" stroke-width="2"/>
<text x="1754.15" y="1302.60" font-size="21" text-anchor="end" textLength="56.50" lengthAdjust="spacingAndGlyphs" transform="rotate(-60 1754.15 1302.60)">52/19</text>
<path d="M1781.03 1279.40V1285.90" stroke="#868686" stroke-width="2"/>
<text x="1786.63" y="1302.60" font-size="21" text-anchor="end" textLength="56.50" lengthAdjust="spacingAndGlyphs" transform="rotate(-60 1786.63 1302.60)">01/20</text>
<path d="M1813.50 1279.40V1285.90" stroke="#868686" stroke-width="2"/>
<text x="1819.10" y="1302.60" font-size="21" text-anchor="end" textLength="56.50" lengthAdjust="spacingAndGlyphs" transform="rotate(-60 1819.10 1302.60)">02/20</text>
<path d="M1845.98 1279.40V1285.90" stroke="#868686" stroke-width="2"/>
<text x="1851.58" y="1302.60" font-size="21" text-anchor="end" textLength="56.50" lengthAdjust="spacingAndGlyphs" transform="rotate(-60 1851.58 1302.60)">03/20</text>
<path d="M1878.45 1279.40V1285.90" stroke="#868686" stroke-width="2"/>
<text x="1884.05" y="1302.60" font-size="21" text-anchor="end" textLength="56.50" lengthAdjust="spacingAndGlyphs" transform="rotate(-60 1884.05 1302.60)">04/20</text>
<path d="M1910.93 1279.40V1285.90" stroke="#868686" stroke-width="2"/>
<text x="1916.53" y="1302.60" font-size="21" text-anchor="end" textLength="56.50" lengthAdjust="spacingAndGlyphs" transform="rotate(-60 1916.53 1302.60)">05/20</text>
<path d="M1943.40 1279.40V1285.90" stroke="#868686" stroke-width="2"/>
<text x="1949.00" y="1302.60" font-size="21" text-anchor="end" textLength="56.50" lengthAdjust="spacingAndGlyphs" transform="rotate(-60 1949.00 1302.60)">06/20</text>
<text x="195.00" y="1085.00" font-size="26" font-weight="bold" stroke="#000" stroke-width="0.35" text-anchor="middle" textLength="330.00" lengthAdjust="spacingAndGlyphs" transform="rotate(-90 195.00 1085.00)">Precio (€/kg vivo)(€/kg canal)</text>
<text x="1851.70" y="1375.70" font-size="26" font-weight="bold" stroke="#000" stroke-width="0.35" textLength="95.60" lengthAdjust="spacingAndGlyphs">Semana</text>
<path d="M287.20 1208.12L319.67 1208.12L352.15 1208.12L384.62 1186.52L417.10 1182.20L449.57 1182.20L482.05 1190.84L514.52 1190.84L547.00 1199.48L579.47 1199.48L611.95 1199.48L644.42 1186.52L676.89 1182.20L709.37 1169.24L741.84 1151.96L774.32 1151.96L806.79 1151.96L839.27 1151.96L871.74 1156.28L904.22 1182.20L936.69 1190.84L969.16 1182.20L1001.64 1182.20L1034.11 1182.20L1066.59 1190.84" fill="none" stroke="#c0504d" stroke-width="6.2" stroke-linejoin="round" stroke-linecap="round"/>
<path d="M1131.54 1203.80L1164.01 1203.80L1196.49 1203.80L1228.96 1203.80L1261.44 1203.80L1293.91 1203.80L1326.38 1190.84L1358.86 1190.84L1391.33 1190.84L1423.81 1208.12L1456.28 1216.76L1488.76 1225.40L1521.23 1225.40L1553.71 1225.40L1586.18 1225.40L1618.65 1225.40L1651.13 1225.40L1683.60 1212.44L1716.08 1203.80L1748.55 1203.80L1781.03 1203.80L1813.50 1203.80L1845.98 1186.52L1878.45 1169.24L1910.93 1169.24L1943.40 1156.28" fill="none" stroke="#c0504d" stroke-width="6.2" stroke-linejoin="round" stroke-linecap="round"/>
<path d="M287.20 1200.52L294.80 1208.12L287.20 1215.72L279.60 1208.12Z" fill="#c0504d"/>
<path d="M319.67 1200.52L327.27 1208.12L319.67 1215.72L312.07 1208.12Z" fill="#c0504d"/>
<path d="M352.15 1200.52L359.75 1208.12L352.15 1215.72L344.55 1208.12Z" fill="#c0504d"/>
<path d="M384.62 1178.92L392.22 1186.52L384.62 1194.12L377.02 1186.52Z" fill="#c0504d"/>
<path d="M417.10 1174.60L424.70 1182.20L417.10 1189.80L409.50 1182.20Z" fill="#c0504d"/>
<path d="M449.57 1174.60L457.17 1182.20L449.57 1189.80L441.97 1182.20Z" fill="#c0504d"/>
<path d="M482.05 1183.24L489.65 1190.84L482.05 1198.44L474.45 1190.84Z" fill="#c0504d"/>
<path d="M514.52 1183.24L522.12 1190.84L514.52 1198.44L506.92 1190.84Z" fill="#c0504d"/>
<path d="M547.00 1191.88L554.60 1199.48L547.00 1207.08L539.40 1199.48Z" fill="#c0504d"/>
<path d="M579.47 1191.88L587.07 1199.48L579.47 1207.08L571.87 1199.48Z" fill="#c0504d"/>
<path d="M611.95 1191.88L619.55 1199.48L611.95 1207.08L604.35 1199.48Z" fill="#c0504d"/>
<path d="M644.42 1178.92L652.02 1186.52L644.42 1194.12L636.82 1186.52Z" fill="#c0504d"/>
<path d="M676.89 1174.60L684.49 1182.20L676.89 1189.80L669.29 1182.20Z" fill="#c0504d"/>
<path d="M709.37 1161.64L716.97 1169.24L709.37 1176.84L701.77 1169.24Z" fill="#c0504d"/>
<path d="M741.84 1144.36L749.44 1151.96L741.84 1159.56L734.24 1151.96Z" fill="#c0504d"/>
<path d="M774.32 1144.36L781.92 1151.96L774.32 1159.56L766.72 1151.96Z" fill="#c0504d"/>
<path d="M806.79 1144.36L814.39 1151.96L806.79 1159.56L799.19 1151.96Z" fill="#c0504d"/>
<path d="M839.27 1144.36L846.87 1151.96L839.27 1159.56L831.67 1151.96Z" fill="#c0504d"/>
<path d="M871.74 1148.68L879.34 1156.28L871.74 1163.88L864.14 1156.28Z" fill="#c0504d"/>
<path d="M904.22 1174.60L911.82 1182.20L904.22 1189.80L896.62 1182.20Z" fill="#c0504d"/>
<path d="M936.69 1183.24L944.29 1190.84L936.69 1198.44L929.09 1190.84Z" fill="#c0504d"/>
<path d="M969.16 1174.60L976.76 1182.20L969.16 1189.80L961.56 1182.20Z" fill="#c0504d"/>
<path d="M1001.64 1174.60L1009.24 1182.20L1001.64 1189.80L994.04 1182.20Z" fill="#c0504d"/>
<path d="M1034.11 1174.60L1041.71 1182.20L1034.11 1189.80L1026.51 1182.20Z" fill="#c0504d"/>
<path d="M1066.59 1183.24L1074.19 1190.84L1066.59 1198.44L1058.99 1190.84Z" fill="#c0504d"/>
<path d="M1131.54 1196.20L1139.14 1203.80L1131.54 1211.40L1123.94 1203.80Z" fill="#c0504d"/>
<path d="M1164.01 1196.20L1171.61 1203.80L1164.01 1211.40L1156.41 1203.80Z" fill="#c0504d"/>
<path d="M1196.49 1196.20L1204.09 1203.80L1196.49 1211.40L1188.89 1203.80Z" fill="#c0504d"/>
<path d="M1228.96 1196.20L1236.56 1203.80L1228.96 1211.40L1221.36 1203.80Z" fill="#c0504d"/>
<path d="M1261.44 1196.20L1269.04 1203.80L1261.44 1211.40L1253.84 1203.80Z" fill="#c0504d"/>
<path d="M1293.91 1196.20L1301.51 1203.80L1293.91 1211.40L1286.31 1203.80Z" fill="#c0504d"/>
<path d="M1326.38 1183.24L1333.98 1190.84L1326.38 1198.44L1318.78 1190.84Z" fill="#c0504d"/>
<path d="M1358.86 1183.24L1366.46 1190.84L1358.86 1198.44L1351.26 1190.84Z" fill="#c0504d"/>
<path d="M1391.33 1183.24L1398.93 1190.84L1391.33 1198.44L1383.73 1190.84Z" fill="#c0504d"/>
<path d="M1423.81 1200.52L1431.41 1208.12L1423.81 1215.72L1416.21 1208.12Z" fill="#c0504d"/>
<path d="M1456.28 1209.16L1463.88 1216.76L1456.28 1224.36L1448.68 1216.76Z" fill="#c0504d"/>
<path d="M1488.76 1217.80L1496.36 1225.40L1488.76 1233.00L1481.16 1225.40Z" fill="#c0504d"/>
<path d="M1521.23 1217.80L1528.83 1225.40L1521.23 1233.00L1513.63 1225.40Z" fill="#c0504d"/>
<path d="M1553.71 1217.80L1561.31 1225.40L1553.71 1233.00L1546.11 1225.40Z" fill="#c0504d"/>
<path d="M1586.18 1217.80L1593.78 1225.40L1586.18 1233.00L1578.58 1225.40Z" fill="#c0504d"/>
<path d="M1618.65 1217.80L1626.25 1225.40L1618.65 1233.00L1611.05 1225.40Z" fill="#c0504d"/>
<path d="M1651.13 1217.80L1658.73 1225.40L1651.13 1233.00L1643.53 1225.40Z" fill="#c0504d"/>
<path d="M1683.60 1204.84L1691.20 1212.44L1683.60 1220.04L1676.00 1212.44Z" fill="#c0504d"/>
<path d="M1716.08 1196.20L1723.68 1203.80L1716.08 1211.40L1708.48 1203.80Z" fill="#c0504d"/>
<path d="M1748.55 1196.20L1756.15 1203.80L1748.55 1211.40L1740.95 1203.80Z" fill="#c0504d"/>
<path d="M1781.03 1196.20L1788.63 1203.80L1781.03 1211.40L1773.43 1203.80Z" fill="#c0504d"/>
<path d="M1813.50 1196.20L1821.10 1203.80L1813.50 1211.40L1805.90 1203.80Z" fill="#c0504d"/>
<path d="M1845.98 1178.92L1853.58 1186.52L1845.98 1194.12L1838.38 1186.52Z" fill="#c0504d"/>
<path d="M1878.45 1161.64L1886.05 1169.24L1878.45 1176.84L1870.85 1169.24Z" fill="#c0504d"/>
<path d="M1910.93 1161.64L1918.53 1169.24L1910.93 1176.84L1903.33 1169.24Z" fill="#c0504d"/>
<path d="M1943.40 1148.68L1951.00 1156.28L1943.40 1163.88L1935.80 1156.28Z" fill="#c0504d"/>
<path d="M287.20 1085.00L319.67 1085.00L352.15 1085.00L384.62 1009.40L417.10 1063.40L449.57 1063.40L482.05 1063.40L514.52 1063.40L547.00 1063.40L579.47 1063.40L611.95 1063.40L644.42 1052.60L676.89 1035.32L709.37 1024.52L741.84 1007.24L774.32 1007.24L806.79 1007.24L839.27 1007.24L871.74 1007.24L904.22 1018.04L936.69 1018.04L969.16 1018.04L1001.64 1018.04L1034.11 1018.04L1066.59 1018.04" fill="none" stroke="#4aacc5" stroke-width="6.2" stroke-linejoin="round" stroke-linecap="round"/>
<path d="M1228.96 1052.60L1261.44 1052.60L1293.91 1052.60L1326.38 1041.80L1358.86 1041.80L1391.33 1041.80L1423.81 1052.60L1456.28 1063.40L1488.76 1074.20L1521.23 1074.20L1553.71 1074.20L1586.18 1074.20L1618.65 1074.20L1651.13 1074.20L1683.60 1052.60L1716.08 1041.80L1748.55 1041.80L1781.03 1041.80L1813.50 1041.80L1845.98 1020.20L1878.45 998.60L1910.93 998.60L1943.40 977.00" fill="none" stroke="#4aacc5" stroke-width="6.2" stroke-linejoin="round" stroke-linecap="round"/>
<path d="M287.20 1077.40L294.80 1085.00L287.20 1092.60L279.60 1085.00Z" fill="#4aacc5"/>
<path d="M319.67 1077.40L327.27 1085.00L319.67 1092.60L312.07 1085.00Z" fill="#4aacc5"/>
<path d="M352.15 1077.40L359.75 1085.00L352.15 1092.60L344.55 1085.00Z" fill="#4aacc5"/>
<path d="M384.62 1001.80L392.22 1009.40L384.62 1017.00L377.02 1009.40Z" fill="#4aacc5"/>
<path d="M417.10 1055.80L424.70 1063.40L417.10 1071.00L409.50 1063.40Z" fill="#4aacc5"/>
<path d="M449.57 1055.80L457.17 1063.40L449.57 1071.00L441.97 1063.40Z" fill="#4aacc5"/>
<path d="M482.05 1055.80L489.65 1063.40L482.05 1071.00L474.45 1063.40Z" fill="#4aacc5"/>
<path d="M514.52 1055.80L522.12 1063.40L514.52 1071.00L506.92 1063.40Z" fill="#4aacc5"/>
<path d="M547.00 1055.80L554.60 1063.40L547.00 1071.00L539.40 1063.40Z" fill="#4aacc5"/>
<path d="M579.47 1055.80L587.07 1063.40L579.47 1071.00L571.87 1063.40Z" fill="#4aacc5"/>
<path d="M611.95 1055.80L619.55 1063.40L611.95 1071.00L604.35 1063.40Z" fill="#4aacc5"/>
<path d="M644.42 1045.00L652.02 1052.60L644.42 1060.20L636.82 1052.60Z" fill="#4aacc5"/>
<path d="M676.89 1027.72L684.49 1035.32L676.89 1042.92L669.29 1035.32Z" fill="#4aacc5"/>
<path d="M709.37 1016.92L716.97 1024.52L709.37 1032.12L701.77 1024.52Z" fill="#4aacc5"/>
<path d="M741.84 999.64L749.44 1007.24L741.84 1014.84L734.24 1007.24Z" fill="#4aacc5"/>
<path d="M774.32 999.64L781.92 1007.24L774.32 1014.84L766.72 1007.24Z" fill="#4aacc5"/>
<path d="M806.79 999.64L814.39 1007.24L806.79 1014.84L799.19 1007.24Z" fill="#4aacc5"/>
<path d="M839.27 999.64L846.87 1007.24L839.27 1014.84L831.67 1007.24Z" fill="#4aacc5"/>
<path d="M871.74 999.64L879.34 1007.24L871.74 1014.84L864.14 1007.24Z" fill="#4aacc5"/>
<path d="M904.22 1010.44L911.82 1018.04L904.22 1025.64L896.62 1018.04Z" fill="#4aacc5"/>
<path d="M936.69 1010.44L944.29 1018.04L936.69 1025.64L929.09 1018.04Z" fill="#4aacc5"/>
<path d="M969.16 1010.44L976.76 1018.04L969.16 1025.64L961.56 1018.04Z" fill="#4aacc5"/>
<path d="M1001.64 1010.44L1009.24 1018.04L1001.64 1025.64L994.04 1018.04Z" fill="#4aacc5"/>
<path d="M1034.11 1010.44L1041.71 1018.04L1034.11 1025.64L1026.51 1018.04Z" fill="#4aacc5"/>
<path d="M1066.59 1010.44L1074.19 1018.04L1066.59 1025.64L1058.99 1018.04Z" fill="#4aacc5"/>
<path d="M1228.96 1045.00L1236.56 1052.60L1228.96 1060.20L1221.36 1052.60Z" fill="#4aacc5"/>
<path d="M1261.44 1045.00L1269.04 1052.60L1261.44 1060.20L1253.84 1052.60Z" fill="#4aacc5"/>
<path d="M1293.91 1045.00L1301.51 1052.60L1293.91 1060.20L1286.31 1052.60Z" fill="#4aacc5"/>
<path d="M1326.38 1034.20L1333.98 1041.80L1326.38 1049.40L1318.78 1041.80Z" fill="#4aacc5"/>
<path d="M1358.86 1034.20L1366.46 1041.80L1358.86 1049.40L1351.26 1041.80Z" fill="#4aacc5"/>
<path d="M1391.33 1034.20L1398.93 1041.80L1391.33 1049.40L1383.73 1041.80Z" fill="#4aacc5"/>
<path d="M1423.81 1045.00L1431.41 1052.60L1423.81 1060.20L1416.21 1052.60Z" fill="#4aacc5"/>
<path d="M1456.28 1055.80L1463.88 1063.40L1456.28 1071.00L1448.68 1063.40Z" fill="#4aacc5"/>
<path d="M1488.76 1066.60L1496.36 1074.20L1488.76 1081.80L1481.16 1074.20Z" fill="#4aacc5"/>
<path d="M1521.23 1066.60L1528.83 1074.20L1521.23 1081.80L1513.63 1074.20Z" fill="#4aacc5"/>
<path d="M1553.71 1066.60L1561.31 1074.20L1553.71 1081.80L1546.11 1074.20Z" fill="#4aacc5"/>
<path d="M1586.18 1066.60L1593.78 1074.20L1586.18 1081.80L1578.58 1074.20Z" fill="#4aacc5"/>
<path d="M1618.65 1066.60L1626.25 1074.20L1618.65 1081.80L1611.05 1074.20Z" fill="#4aacc5"/>
<path d="M1651.13 1066.60L1658.73 1074.20L1651.13 1081.80L1643.53 1074.20Z" fill="#4aacc5"/>
<path d="M1683.60 1045.00L1691.20 1052.60L1683.60 1060.20L1676.00 1052.60Z" fill="#4aacc5"/>
<path d="M1716.08 1034.20L1723.68 1041.80L1716.08 1049.40L1708.48 1041.80Z" fill="#4aacc5"/>
<path d="M1748.55 1034.20L1756.15 1041.80L1748.55 1049.40L1740.95 1041.80Z" fill="#4aacc5"/>
<path d="M1781.03 1034.20L1788.63 1041.80L1781.03 1049.40L1773.43 1041.80Z" fill="#4aacc5"/>
<path d="M1813.50 1034.20L1821.10 1041.80L1813.50 1049.40L1805.90 1041.80Z" fill="#4aacc5"/>
<path d="M1845.98 1012.60L1853.58 1020.20L1845.98 1027.80L1838.38 1020.20Z" fill="#4aacc5"/>
<path d="M1878.45 991.00L1886.05 998.60L1878.45 1006.20L1870.85 998.60Z" fill="#4aacc5"/>
<path d="M1910.93 991.00L1918.53 998.60L1910.93 1006.20L1903.33 998.60Z" fill="#4aacc5"/>
<path d="M1943.40 969.40L1951.00 977.00L1943.40 984.60L1935.80 977.00Z" fill="#4aacc5"/>
<path d="M417.10 1009.40L449.57 1009.40L482.05 1009.40L514.52 1009.40L547.00 1009.40L579.47 1009.40L611.95 1009.40L644.42 998.60L676.89 981.32L709.37 970.52L741.84 953.24L774.32 953.24L806.79 953.24L839.27 953.24L871.74 953.24L904.22 964.04L936.69 964.04L969.16 964.04L1001.64 964.04L1034.11 964.04L1066.59 964.04" fill="none" stroke="#00b050" stroke-width="6.2" stroke-linejoin="round" stroke-linecap="round"/>
<path d="M1228.96 998.60L1261.44 998.60L1293.91 998.60L1326.38 987.80L1358.86 987.80L1391.33 987.80L1423.81 998.60L1456.28 1009.40L1488.76 1020.20L1521.23 1020.20L1553.71 1020.20L1586.18 1020.20L1618.65 1020.20L1651.13 1020.20L1683.60 998.60L1716.08 987.80L1748.55 987.80L1781.03 987.80L1813.50 987.80L1845.98 966.20L1878.45 944.60L1910.93 944.60L1943.40 923.00" fill="none" stroke="#00b050" stroke-width="6.2" stroke-linejoin="round" stroke-linecap="round"/>
<path d="M417.10 998.90L427.30 1019.90L406.90 1019.90Z" fill="#00b050"/>
<path d="M449.57 998.90L459.77 1019.90L439.37 1019.90Z" fill="#00b050"/>
<path d="M482.05 998.90L492.25 1019.90L471.85 1019.90Z" fill="#00b050"/>
<path d="M514.52 998.90L524.72 1019.90L504.32 1019.90Z" fill="#00b050"/>
<path d="M547.00 998.90L557.20 1019.90L536.80 1019.90Z" fill="#00b050"/>
<path d="M579.47 998.90L589.67 1019.90L569.27 1019.90Z" fill="#00b050"/>
<path d="M611.95 998.90L622.15 1019.90L601.75 1019.90Z" fill="#00b050"/>
<path d="M644.42 988.10L654.62 1009.10L634.22 1009.10Z" fill="#00b050"/>
<path d="M676.89 970.82L687.09 991.82L666.69 991.82Z" fill="#00b050"/>
<path d="M709.37 960.02L719.57 981.02L699.17 981.02Z" fill="#00b050"/>
<path d="M741.84 942.74L752.04 963.74L731.64 963.74Z" fill="#00b050"/>
<path d="M774.32 942.74L784.52 963.74L764.12 963.74Z" fill="#00b050"/>
<path d="M806.79 942.74L816.99 963.74L796.59 963.74Z" fill="#00b050"/>
<path d="M839.27 942.74L849.47 963.74L829.07 963.74Z" fill="#00b050"/>
<path d="M871.74 942.74L881.94 963.74L861.54 963.74Z" fill="#00b050"/>
<path d="M904.22 953.54L914.42 974.54L894.02 974.54Z" fill="#00b050"/>
<path d="M936.69 953.54L946.89 974.54L926.49 974.54Z" fill="#00b050"/>
<path d="M969.16 953.54L979.36 974.54L958.96 974.54Z" fill="#00b050"/>
<path d="M1001.64 953.54L1011.84 974.54L991.44 974.54Z" fill="#00b050"/>
<path d="M1034.11 953.54L1044.31 974.54L1023.91 974.54Z" fill="#00b050"/>
<path d="M1066.59 953.54L1076.79 974.54L1056.39 974.54Z" fill="#00b050"/>
<path d="M1228.96 988.10L1239.16 1009.10L1218.76 1009.10Z" fill="#00b050"/>
<path d="M1261.44 988.10L1271.64 1009.10L1251.24 1009.10Z" fill="#00b050"/>
<path d="M1293.91 988.10L1304.11 1009.10L1283.71 1009.10Z" fill="#00b050"/>
<path d="M1326.38 977.30L1336.58 998.30L1316.18 998.30Z" fill="#00b050"/>
<path d="M1358.86 977.30L1369.06 998.30L1348.66 998.30Z" fill="#00b050"/>
<path d="M1391.33 977.30L1401.53 998.30L1381.13 998.30Z" fill="#00b050"/>
<path d="M1423.81 988.10L1434.01 1009.10L1413.61 1009.10Z" fill="#00b050"/>
<path d="M1456.28 998.90L1466.48 1019.90L1446.08 1019.90Z" fill="#00b050"/>
<path d="M1488.76 1009.70L1498.96 1030.70L1478.56 1030.70Z" fill="#00b050"/>
<path d="M1521.23 1009.70L1531.43 1030.70L1511.03 1030.70Z" fill="#00b050"/>
<path d="M1553.71 1009.70L1563.91 1030.70L1543.51 1030.70Z" fill="#00b050"/>
<path d="M1586.18 1009.70L1596.38 1030.70L1575.98 1030.70Z" fill="#00b050"/>
<path d="M1618.65 1009.70L1628.85 1030.70L1608.45 1030.70Z" fill="#00b050"/>
<path d="M1651.13 1009.70L1661.33 1030.70L1640.93 1030.70Z" fill="#00b050"/>
<path d="M1683.60 988.10L1693.80 1009.10L1673.40 1009.10Z" fill="#00b050"/>
<path d="M1716.08 977.30L1726.28 998.30L1705.88 998.30Z" fill="#00b050"/>
<path d="M1748.55 977.30L1758.75 998.30L1738.35 998.30Z" fill="#00b050"/>
<path d="M1781.03 977.30L1791.23 998.30L1770.83 998.30Z" fill="#00b050"/>
<path d="M1813.50 977.30L1823.70 998.30L1803.30 998.30Z" fill="#00b050"/>
<path d="M1845.98 955.70L1856.18 976.70L1835.78 976.70Z" fill="#00b050"/>
<path d="M1878.45 934.10L1888.65 955.10L1868.25 955.10Z" fill="#00b050"/>
<path d="M1910.93 934.10L1921.13 955.10L1900.73 955.10Z" fill="#00b050"/>
<path d="M1943.40 912.50L1953.60 933.50L1933.20 933.50Z" fill="#00b050"/>
<path d="M274.10 1372.00H323.90" stroke="#c0504d" stroke-width="6.2" stroke-linecap="round"/>
<path d="M299.00 1365.50L305.50 1372.00L299.00 1378.50L292.50 1372.00Z" fill="#c0504d"/>
<text x="329.60" y="1379.00" font-size="24.6" font-weight="bold" stroke="#000" stroke-width="0.35" textLength="389.00" lengthAdjust="spacingAndGlyphs">Pollo vivo estándar origen gr (Ebro)</text>
<path d="M804.10 1372.00H854.40" stroke="#4aacc5" stroke-width="6.2" stroke-linecap="round"/>
<path d="M829.25 1365.50L835.75 1372.00L829.25 1378.50L822.75 1372.00Z" fill="#4aacc5"/>
<text x="861.70" y="1379.00" font-size="24.6" font-weight="bold" stroke="#000" stroke-width="0.35" textLength="376.60" lengthAdjust="spacingAndGlyphs">Pollo canal estándar muelle (Ebro)</text>
<path d="M1324.10 1372.00H1374.90" stroke="#00b050" stroke-width="6.2" stroke-linecap="round"/>
<path d="M1349.50 1364.45L1357.15 1379.55L1341.85 1379.55Z" fill="#00b050"/>
<text x="1381.20" y="1379.00" font-size="24.6" font-weight="bold" stroke="#000" stroke-width="0.35" textLength="385.70" lengthAdjust="spacingAndGlyphs">Pollo canal estándar reparto (Ebro)</text>
</g>
<g id="footer" fill="#777777" font-style="italic">
<text x="164.00" y="1454.40" font-size="15.5" fill="#777777" textLength="1730.00" lengthAdjust="spacingAndGlyphs">Aunque DSM ha puesto todo el cuidado para garantizar que la información aquí contenida es correcta y está actualizada, DSM no asume ninguna garantía acerca de la exactitud, fiabilidad o integridad de la información. Los datos aquí contenidos son para fines</text>
<text x="164.00" y="1471.95" font-size="15.5" fill="#777777" textLength="1730.00" lengthAdjust="spacingAndGlyphs">informativos y están destinados solamente para su uso en las empresas. Esta publicación no constituye ni proporciona asesoramiento científico o médico, diagnóstico o tratamiento y se distribuye sin garantía de ningún tipo, ni expresa ni implícitamente En ningún</text>
<text x="164.00" y="1489.50" font-size="15.5" fill="#777777" textLength="1730.00" lengthAdjust="spacingAndGlyphs">caso DSM será responsable de los daños derivados de la confianza del lector sobre, o el uso de estos datos. El lector será el único responsable de cualquier interpretación o el uso del material contenido en este documento El contenido de este documento está</text>
<text x="164.00" y="1507.05" font-size="15.5" fill="#777777" textLength="1730.00" lengthAdjust="spacingAndGlyphs">sujeto a cambios sin previo aviso. Póngase en contacto con su representante local de DSM para más detalles. Todas las marcas comerciales mencionadas en este folleto son marcas comerciales registradas o marcas comerciales de DSM en los Países Bajos y/u</text>
<text x="164.00" y="1524.60" font-size="15.5" fill="#777777" textLength="84.00" lengthAdjust="spacingAndGlyphs">otros países.</text>
</g>
<text y="1578" font-size="23.5" font-weight="bold" fill="#0f8fd1"><tspan x="1455" textLength="107.5" lengthAdjust="spacingAndGlyphs">NUTRITION</tspan><tspan x="1572.6">·</tspan><tspan x="1588.4" textLength="73.4" lengthAdjust="spacingAndGlyphs">HEALTH</tspan><tspan x="1672">·</tspan><tspan x="1689.3" textLength="207.8" lengthAdjust="spacingAndGlyphs">SUSTAINABLE LIVING</tspan></text>
</svg></body></html>
